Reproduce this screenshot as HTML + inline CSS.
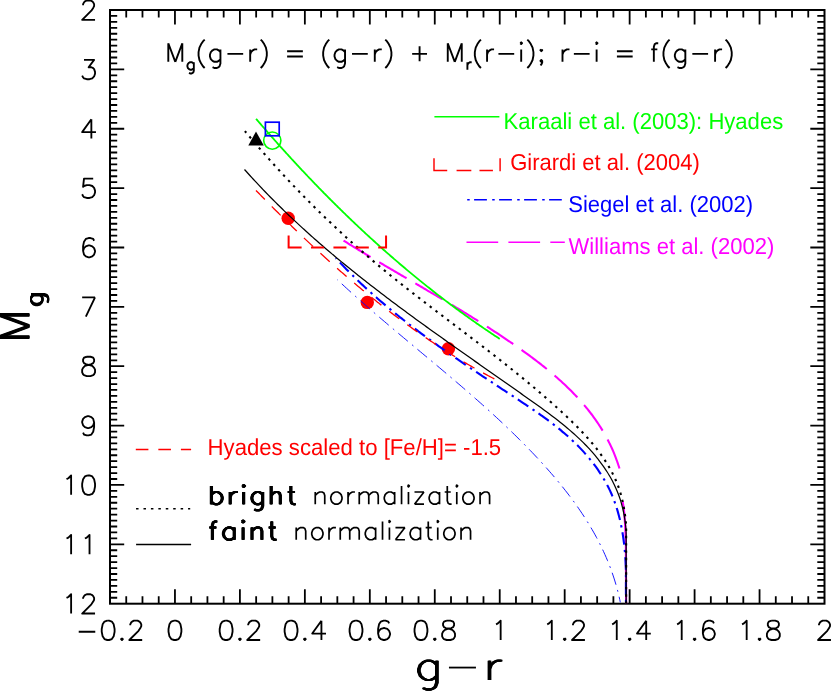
<!DOCTYPE html>
<html><head><meta charset="utf-8"><title>Mg vs g-r</title>
<style>html,body{margin:0;padding:0;background:#fff;}svg{display:block;font-family:"Liberation Sans",sans-serif;}</style>
</head><body>
<svg width="831" height="691" viewBox="0 0 831 691">
<rect width="831" height="691" fill="#fff"/>
<rect x="110.00" y="10.00" width="714.50" height="593.70" fill="none" stroke="#000" stroke-width="2.00"/>
<path d="M126.24,10.00v7.50M126.24,603.70v-7.50M142.48,10.00v7.50M142.48,603.70v-7.50M158.72,10.00v7.50M158.72,603.70v-7.50M174.95,10.00v14.50M174.95,603.70v-14.50M191.19,10.00v7.50M191.19,603.70v-7.50M207.43,10.00v7.50M207.43,603.70v-7.50M223.67,10.00v7.50M223.67,603.70v-7.50M239.91,10.00v14.50M239.91,603.70v-14.50M256.15,10.00v7.50M256.15,603.70v-7.50M272.39,10.00v7.50M272.39,603.70v-7.50M288.62,10.00v7.50M288.62,603.70v-7.50M304.86,10.00v14.50M304.86,603.70v-14.50M321.10,10.00v7.50M321.10,603.70v-7.50M337.34,10.00v7.50M337.34,603.70v-7.50M353.58,10.00v7.50M353.58,603.70v-7.50M369.82,10.00v14.50M369.82,603.70v-14.50M386.06,10.00v7.50M386.06,603.70v-7.50M402.30,10.00v7.50M402.30,603.70v-7.50M418.53,10.00v7.50M418.53,603.70v-7.50M434.77,10.00v14.50M434.77,603.70v-14.50M451.01,10.00v7.50M451.01,603.70v-7.50M467.25,10.00v7.50M467.25,603.70v-7.50M483.49,10.00v7.50M483.49,603.70v-7.50M499.73,10.00v14.50M499.73,603.70v-14.50M515.97,10.00v7.50M515.97,603.70v-7.50M532.20,10.00v7.50M532.20,603.70v-7.50M548.44,10.00v7.50M548.44,603.70v-7.50M564.68,10.00v14.50M564.68,603.70v-14.50M580.92,10.00v7.50M580.92,603.70v-7.50M597.16,10.00v7.50M597.16,603.70v-7.50M613.40,10.00v7.50M613.40,603.70v-7.50M629.64,10.00v14.50M629.64,603.70v-14.50M645.88,10.00v7.50M645.88,603.70v-7.50M662.11,10.00v7.50M662.11,603.70v-7.50M678.35,10.00v7.50M678.35,603.70v-7.50M694.59,10.00v14.50M694.59,603.70v-14.50M710.83,10.00v7.50M710.83,603.70v-7.50M727.07,10.00v7.50M727.07,603.70v-7.50M743.31,10.00v7.50M743.31,603.70v-7.50M759.55,10.00v14.50M759.55,603.70v-14.50M775.78,10.00v7.50M775.78,603.70v-7.50M792.02,10.00v7.50M792.02,603.70v-7.50M808.26,10.00v7.50M808.26,603.70v-7.50M110.00,15.94h7.20M824.50,15.94h-7.20M110.00,21.87h7.20M824.50,21.87h-7.20M110.00,27.81h7.20M824.50,27.81h-7.20M110.00,33.75h7.20M824.50,33.75h-7.20M110.00,39.69h7.20M824.50,39.69h-7.20M110.00,45.62h7.20M824.50,45.62h-7.20M110.00,51.56h7.20M824.50,51.56h-7.20M110.00,57.50h7.20M824.50,57.50h-7.20M110.00,63.43h7.20M824.50,63.43h-7.20M110.00,69.37h14.20M824.50,69.37h-14.20M110.00,75.31h7.20M824.50,75.31h-7.20M110.00,81.24h7.20M824.50,81.24h-7.20M110.00,87.18h7.20M824.50,87.18h-7.20M110.00,93.12h7.20M824.50,93.12h-7.20M110.00,99.06h7.20M824.50,99.06h-7.20M110.00,104.99h7.20M824.50,104.99h-7.20M110.00,110.93h7.20M824.50,110.93h-7.20M110.00,116.87h7.20M824.50,116.87h-7.20M110.00,122.80h7.20M824.50,122.80h-7.20M110.00,128.74h14.20M824.50,128.74h-14.20M110.00,134.68h7.20M824.50,134.68h-7.20M110.00,140.61h7.20M824.50,140.61h-7.20M110.00,146.55h7.20M824.50,146.55h-7.20M110.00,152.49h7.20M824.50,152.49h-7.20M110.00,158.43h7.20M824.50,158.43h-7.20M110.00,164.36h7.20M824.50,164.36h-7.20M110.00,170.30h7.20M824.50,170.30h-7.20M110.00,176.24h7.20M824.50,176.24h-7.20M110.00,182.17h7.20M824.50,182.17h-7.20M110.00,188.11h14.20M824.50,188.11h-14.20M110.00,194.05h7.20M824.50,194.05h-7.20M110.00,199.98h7.20M824.50,199.98h-7.20M110.00,205.92h7.20M824.50,205.92h-7.20M110.00,211.86h7.20M824.50,211.86h-7.20M110.00,217.80h7.20M824.50,217.80h-7.20M110.00,223.73h7.20M824.50,223.73h-7.20M110.00,229.67h7.20M824.50,229.67h-7.20M110.00,235.61h7.20M824.50,235.61h-7.20M110.00,241.54h7.20M824.50,241.54h-7.20M110.00,247.48h14.20M824.50,247.48h-14.20M110.00,253.42h7.20M824.50,253.42h-7.20M110.00,259.35h7.20M824.50,259.35h-7.20M110.00,265.29h7.20M824.50,265.29h-7.20M110.00,271.23h7.20M824.50,271.23h-7.20M110.00,277.17h7.20M824.50,277.17h-7.20M110.00,283.10h7.20M824.50,283.10h-7.20M110.00,289.04h7.20M824.50,289.04h-7.20M110.00,294.98h7.20M824.50,294.98h-7.20M110.00,300.91h7.20M824.50,300.91h-7.20M110.00,306.85h14.20M824.50,306.85h-14.20M110.00,312.79h7.20M824.50,312.79h-7.20M110.00,318.72h7.20M824.50,318.72h-7.20M110.00,324.66h7.20M824.50,324.66h-7.20M110.00,330.60h7.20M824.50,330.60h-7.20M110.00,336.54h7.20M824.50,336.54h-7.20M110.00,342.47h7.20M824.50,342.47h-7.20M110.00,348.41h7.20M824.50,348.41h-7.20M110.00,354.35h7.20M824.50,354.35h-7.20M110.00,360.28h7.20M824.50,360.28h-7.20M110.00,366.22h14.20M824.50,366.22h-14.20M110.00,372.16h7.20M824.50,372.16h-7.20M110.00,378.09h7.20M824.50,378.09h-7.20M110.00,384.03h7.20M824.50,384.03h-7.20M110.00,389.97h7.20M824.50,389.97h-7.20M110.00,395.91h7.20M824.50,395.91h-7.20M110.00,401.84h7.20M824.50,401.84h-7.20M110.00,407.78h7.20M824.50,407.78h-7.20M110.00,413.72h7.20M824.50,413.72h-7.20M110.00,419.65h7.20M824.50,419.65h-7.20M110.00,425.59h14.20M824.50,425.59h-14.20M110.00,431.53h7.20M824.50,431.53h-7.20M110.00,437.46h7.20M824.50,437.46h-7.20M110.00,443.40h7.20M824.50,443.40h-7.20M110.00,449.34h7.20M824.50,449.34h-7.20M110.00,455.27h7.20M824.50,455.27h-7.20M110.00,461.21h7.20M824.50,461.21h-7.20M110.00,467.15h7.20M824.50,467.15h-7.20M110.00,473.09h7.20M824.50,473.09h-7.20M110.00,479.02h7.20M824.50,479.02h-7.20M110.00,484.96h14.20M824.50,484.96h-14.20M110.00,490.90h7.20M824.50,490.90h-7.20M110.00,496.83h7.20M824.50,496.83h-7.20M110.00,502.77h7.20M824.50,502.77h-7.20M110.00,508.71h7.20M824.50,508.71h-7.20M110.00,514.65h7.20M824.50,514.65h-7.20M110.00,520.58h7.20M824.50,520.58h-7.20M110.00,526.52h7.20M824.50,526.52h-7.20M110.00,532.46h7.20M824.50,532.46h-7.20M110.00,538.39h7.20M824.50,538.39h-7.20M110.00,544.33h14.20M824.50,544.33h-14.20M110.00,550.27h7.20M824.50,550.27h-7.20M110.00,556.20h7.20M824.50,556.20h-7.20M110.00,562.14h7.20M824.50,562.14h-7.20M110.00,568.08h7.20M824.50,568.08h-7.20M110.00,574.02h7.20M824.50,574.02h-7.20M110.00,579.95h7.20M824.50,579.95h-7.20M110.00,585.89h7.20M824.50,585.89h-7.20M110.00,591.83h7.20M824.50,591.83h-7.20M110.00,597.76h7.20M824.50,597.76h-7.20" stroke="#000" stroke-width="1.80" fill="none"/>
<path transform="translate(79.40,19.85)" d="M3.68,-14.72L3.68,-15.64L4.60,-17.48L5.52,-18.40L7.36,-19.32L11.04,-19.32L12.88,-18.40L13.80,-17.48L14.72,-15.64L14.72,-13.80L13.80,-11.96L11.96,-9.20L2.76,-0.00L15.64,-0.00" fill="none" stroke="#000" stroke-width="1.85" stroke-linecap="butt" stroke-linejoin="round"/>
<path transform="translate(79.40,79.22)" d="M4.60,-19.32L14.72,-19.32L9.20,-11.96L11.96,-11.96L13.80,-11.04L14.72,-10.12L15.64,-7.36L15.64,-5.52L14.72,-2.76L12.88,-0.92L10.12,-0.00L7.36,-0.00L4.60,-0.92L3.68,-1.84L2.76,-3.68" fill="none" stroke="#000" stroke-width="1.85" stroke-linecap="butt" stroke-linejoin="round"/>
<path transform="translate(79.40,138.59)" d="M11.96,-19.32L2.76,-6.44L16.56,-6.44M11.96,-19.32L11.96,-0.00" fill="none" stroke="#000" stroke-width="1.85" stroke-linecap="butt" stroke-linejoin="round"/>
<path transform="translate(79.40,197.96)" d="M13.80,-19.32L4.60,-19.32L3.68,-11.04L4.60,-11.96L7.36,-12.88L10.12,-12.88L12.88,-11.96L14.72,-10.12L15.64,-7.36L15.64,-5.52L14.72,-2.76L12.88,-0.92L10.12,-0.00L7.36,-0.00L4.60,-0.92L3.68,-1.84L2.76,-3.68" fill="none" stroke="#000" stroke-width="1.85" stroke-linecap="butt" stroke-linejoin="round"/>
<path transform="translate(79.40,257.33)" d="M14.72,-16.56L13.80,-18.40L11.04,-19.32L9.20,-19.32L6.44,-18.40L4.60,-15.64L3.68,-11.04L3.68,-6.44L4.60,-2.76L6.44,-0.92L9.20,-0.00L10.12,-0.00L12.88,-0.92L14.72,-2.76L15.64,-5.52L15.64,-6.44L14.72,-9.20L12.88,-11.04L10.12,-11.96L9.20,-11.96L6.44,-11.04L4.60,-9.20L3.68,-6.44" fill="none" stroke="#000" stroke-width="1.85" stroke-linecap="butt" stroke-linejoin="round"/>
<path transform="translate(79.40,316.70)" d="M15.64,-19.32L6.44,-0.00M2.76,-19.32L15.64,-19.32" fill="none" stroke="#000" stroke-width="1.85" stroke-linecap="butt" stroke-linejoin="round"/>
<path transform="translate(79.40,376.07)" d="M7.36,-19.32L4.60,-18.40L3.68,-16.56L3.68,-14.72L4.60,-12.88L6.44,-11.96L10.12,-11.04L12.88,-10.12L14.72,-8.28L15.64,-6.44L15.64,-3.68L14.72,-1.84L13.80,-0.92L11.04,-0.00L7.36,-0.00L4.60,-0.92L3.68,-1.84L2.76,-3.68L2.76,-6.44L3.68,-8.28L5.52,-10.12L8.28,-11.04L11.96,-11.96L13.80,-12.88L14.72,-14.72L14.72,-16.56L13.80,-18.40L11.04,-19.32L7.36,-19.32" fill="none" stroke="#000" stroke-width="1.85" stroke-linecap="butt" stroke-linejoin="round"/>
<path transform="translate(79.40,435.44)" d="M14.72,-12.88L13.80,-10.12L11.96,-8.28L9.20,-7.36L8.28,-7.36L5.52,-8.28L3.68,-10.12L2.76,-12.88L2.76,-13.80L3.68,-16.56L5.52,-18.40L8.28,-19.32L9.20,-19.32L11.96,-18.40L13.80,-16.56L14.72,-12.88L14.72,-8.28L13.80,-3.68L11.96,-0.92L9.20,-0.00L7.36,-0.00L4.60,-0.92L3.68,-2.76" fill="none" stroke="#000" stroke-width="1.85" stroke-linecap="butt" stroke-linejoin="round"/>
<path transform="translate(61.00,494.81)" d="M5.52,-15.64L7.36,-16.56L10.12,-19.32L10.12,-0.00M26.68,-19.32L23.92,-18.40L22.08,-15.64L21.16,-11.04L21.16,-8.28L22.08,-3.68L23.92,-0.92L26.68,-0.00L28.52,-0.00L31.28,-0.92L33.12,-3.68L34.04,-8.28L34.04,-11.04L33.12,-15.64L31.28,-18.40L28.52,-19.32L26.68,-19.32" fill="none" stroke="#000" stroke-width="1.85" stroke-linecap="butt" stroke-linejoin="round"/>
<path transform="translate(61.00,554.18)" d="M5.52,-15.64L7.36,-16.56L10.12,-19.32L10.12,-0.00M23.92,-15.64L25.76,-16.56L28.52,-19.32L28.52,-0.00" fill="none" stroke="#000" stroke-width="1.85" stroke-linecap="butt" stroke-linejoin="round"/>
<path transform="translate(61.00,613.55)" d="M5.52,-15.64L7.36,-16.56L10.12,-19.32L10.12,-0.00M22.08,-14.72L22.08,-15.64L23.00,-17.48L23.92,-18.40L25.76,-19.32L29.44,-19.32L31.28,-18.40L32.20,-17.48L33.12,-15.64L33.12,-13.80L32.20,-11.96L30.36,-9.20L21.16,-0.00L34.04,-0.00" fill="none" stroke="#000" stroke-width="1.85" stroke-linecap="butt" stroke-linejoin="round"/>
<path transform="translate(75.04,640.00)" d="M3.68,-8.28L20.24,-8.28M32.20,-19.32L29.44,-18.40L27.60,-15.64L26.68,-11.04L26.68,-8.28L27.60,-3.68L29.44,-0.92L32.20,-0.00L34.04,-0.00L36.80,-0.92L38.64,-3.68L39.56,-8.28L39.56,-11.04L38.64,-15.64L36.80,-18.40L34.04,-19.32L32.20,-19.32M46.92,-1.84L46.00,-0.92L46.92,-0.00L47.84,-0.92L46.92,-1.84M55.20,-14.72L55.20,-15.64L56.12,-17.48L57.04,-18.40L58.88,-19.32L62.56,-19.32L64.40,-18.40L65.32,-17.48L66.24,-15.64L66.24,-13.80L65.32,-11.96L63.48,-9.20L54.28,-0.00L67.16,-0.00" fill="none" stroke="#000" stroke-width="1.85" stroke-linecap="butt" stroke-linejoin="round"/>
<path transform="translate(165.75,640.00)" d="M8.28,-19.32L5.52,-18.40L3.68,-15.64L2.76,-11.04L2.76,-8.28L3.68,-3.68L5.52,-0.92L8.28,-0.00L10.12,-0.00L12.88,-0.92L14.72,-3.68L15.64,-8.28L15.64,-11.04L14.72,-15.64L12.88,-18.40L10.12,-19.32L8.28,-19.32" fill="none" stroke="#000" stroke-width="1.85" stroke-linecap="butt" stroke-linejoin="round"/>
<path transform="translate(216.91,640.00)" d="M8.28,-19.32L5.52,-18.40L3.68,-15.64L2.76,-11.04L2.76,-8.28L3.68,-3.68L5.52,-0.92L8.28,-0.00L10.12,-0.00L12.88,-0.92L14.72,-3.68L15.64,-8.28L15.64,-11.04L14.72,-15.64L12.88,-18.40L10.12,-19.32L8.28,-19.32M23.00,-1.84L22.08,-0.92L23.00,-0.00L23.92,-0.92L23.00,-1.84M31.28,-14.72L31.28,-15.64L32.20,-17.48L33.12,-18.40L34.96,-19.32L38.64,-19.32L40.48,-18.40L41.40,-17.48L42.32,-15.64L42.32,-13.80L41.40,-11.96L39.56,-9.20L30.36,-0.00L43.24,-0.00" fill="none" stroke="#000" stroke-width="1.85" stroke-linecap="butt" stroke-linejoin="round"/>
<path transform="translate(281.86,640.00)" d="M8.28,-19.32L5.52,-18.40L3.68,-15.64L2.76,-11.04L2.76,-8.28L3.68,-3.68L5.52,-0.92L8.28,-0.00L10.12,-0.00L12.88,-0.92L14.72,-3.68L15.64,-8.28L15.64,-11.04L14.72,-15.64L12.88,-18.40L10.12,-19.32L8.28,-19.32M23.00,-1.84L22.08,-0.92L23.00,-0.00L23.92,-0.92L23.00,-1.84M39.56,-19.32L30.36,-6.44L44.16,-6.44M39.56,-19.32L39.56,-0.00" fill="none" stroke="#000" stroke-width="1.85" stroke-linecap="butt" stroke-linejoin="round"/>
<path transform="translate(346.82,640.00)" d="M8.28,-19.32L5.52,-18.40L3.68,-15.64L2.76,-11.04L2.76,-8.28L3.68,-3.68L5.52,-0.92L8.28,-0.00L10.12,-0.00L12.88,-0.92L14.72,-3.68L15.64,-8.28L15.64,-11.04L14.72,-15.64L12.88,-18.40L10.12,-19.32L8.28,-19.32M23.00,-1.84L22.08,-0.92L23.00,-0.00L23.92,-0.92L23.00,-1.84M42.32,-16.56L41.40,-18.40L38.64,-19.32L36.80,-19.32L34.04,-18.40L32.20,-15.64L31.28,-11.04L31.28,-6.44L32.20,-2.76L34.04,-0.92L36.80,-0.00L37.72,-0.00L40.48,-0.92L42.32,-2.76L43.24,-5.52L43.24,-6.44L42.32,-9.20L40.48,-11.04L37.72,-11.96L36.80,-11.96L34.04,-11.04L32.20,-9.20L31.28,-6.44" fill="none" stroke="#000" stroke-width="1.85" stroke-linecap="butt" stroke-linejoin="round"/>
<path transform="translate(411.77,640.00)" d="M8.28,-19.32L5.52,-18.40L3.68,-15.64L2.76,-11.04L2.76,-8.28L3.68,-3.68L5.52,-0.92L8.28,-0.00L10.12,-0.00L12.88,-0.92L14.72,-3.68L15.64,-8.28L15.64,-11.04L14.72,-15.64L12.88,-18.40L10.12,-19.32L8.28,-19.32M23.00,-1.84L22.08,-0.92L23.00,-0.00L23.92,-0.92L23.00,-1.84M34.96,-19.32L32.20,-18.40L31.28,-16.56L31.28,-14.72L32.20,-12.88L34.04,-11.96L37.72,-11.04L40.48,-10.12L42.32,-8.28L43.24,-6.44L43.24,-3.68L42.32,-1.84L41.40,-0.92L38.64,-0.00L34.96,-0.00L32.20,-0.92L31.28,-1.84L30.36,-3.68L30.36,-6.44L31.28,-8.28L33.12,-10.12L35.88,-11.04L39.56,-11.96L41.40,-12.88L42.32,-14.72L42.32,-16.56L41.40,-18.40L38.64,-19.32L34.96,-19.32" fill="none" stroke="#000" stroke-width="1.85" stroke-linecap="butt" stroke-linejoin="round"/>
<path transform="translate(490.53,640.00)" d="M5.52,-15.64L7.36,-16.56L10.12,-19.32L10.12,-0.00" fill="none" stroke="#000" stroke-width="1.85" stroke-linecap="butt" stroke-linejoin="round"/>
<path transform="translate(541.68,640.00)" d="M5.52,-15.64L7.36,-16.56L10.12,-19.32L10.12,-0.00M23.00,-1.84L22.08,-0.92L23.00,-0.00L23.92,-0.92L23.00,-1.84M31.28,-14.72L31.28,-15.64L32.20,-17.48L33.12,-18.40L34.96,-19.32L38.64,-19.32L40.48,-18.40L41.40,-17.48L42.32,-15.64L42.32,-13.80L41.40,-11.96L39.56,-9.20L30.36,-0.00L43.24,-0.00" fill="none" stroke="#000" stroke-width="1.85" stroke-linecap="butt" stroke-linejoin="round"/>
<path transform="translate(606.64,640.00)" d="M5.52,-15.64L7.36,-16.56L10.12,-19.32L10.12,-0.00M23.00,-1.84L22.08,-0.92L23.00,-0.00L23.92,-0.92L23.00,-1.84M39.56,-19.32L30.36,-6.44L44.16,-6.44M39.56,-19.32L39.56,-0.00" fill="none" stroke="#000" stroke-width="1.85" stroke-linecap="butt" stroke-linejoin="round"/>
<path transform="translate(671.59,640.00)" d="M5.52,-15.64L7.36,-16.56L10.12,-19.32L10.12,-0.00M23.00,-1.84L22.08,-0.92L23.00,-0.00L23.92,-0.92L23.00,-1.84M42.32,-16.56L41.40,-18.40L38.64,-19.32L36.80,-19.32L34.04,-18.40L32.20,-15.64L31.28,-11.04L31.28,-6.44L32.20,-2.76L34.04,-0.92L36.80,-0.00L37.72,-0.00L40.48,-0.92L42.32,-2.76L43.24,-5.52L43.24,-6.44L42.32,-9.20L40.48,-11.04L37.72,-11.96L36.80,-11.96L34.04,-11.04L32.20,-9.20L31.28,-6.44" fill="none" stroke="#000" stroke-width="1.85" stroke-linecap="butt" stroke-linejoin="round"/>
<path transform="translate(736.55,640.00)" d="M5.52,-15.64L7.36,-16.56L10.12,-19.32L10.12,-0.00M23.00,-1.84L22.08,-0.92L23.00,-0.00L23.92,-0.92L23.00,-1.84M34.96,-19.32L32.20,-18.40L31.28,-16.56L31.28,-14.72L32.20,-12.88L34.04,-11.96L37.72,-11.04L40.48,-10.12L42.32,-8.28L43.24,-6.44L43.24,-3.68L42.32,-1.84L41.40,-0.92L38.64,-0.00L34.96,-0.00L32.20,-0.92L31.28,-1.84L30.36,-3.68L30.36,-6.44L31.28,-8.28L33.12,-10.12L35.88,-11.04L39.56,-11.96L41.40,-12.88L42.32,-14.72L42.32,-16.56L41.40,-18.40L38.64,-19.32L34.96,-19.32" fill="none" stroke="#000" stroke-width="1.85" stroke-linecap="butt" stroke-linejoin="round"/>
<path transform="translate(815.30,640.00)" d="M3.68,-14.72L3.68,-15.64L4.60,-17.48L5.52,-18.40L7.36,-19.32L11.04,-19.32L12.88,-18.40L13.80,-17.48L14.72,-15.64L14.72,-13.80L13.80,-11.96L11.96,-9.20L2.76,-0.00L15.64,-0.00" fill="none" stroke="#000" stroke-width="1.85" stroke-linecap="butt" stroke-linejoin="round"/>
<path transform="translate(164.80,61.80)" d="M3.50,-18.59L3.50,-0.00M3.50,-18.59L10.50,-0.00M17.50,-18.59L10.50,-0.00M17.50,-18.59L17.50,-0.00" fill="none" stroke="#000" stroke-width="1.90" stroke-linecap="butt" stroke-linejoin="round"/>
<path transform="translate(185.80,69.70)" d="M8.03,-7.49L8.03,1.07L7.49,2.68L6.96,3.21L5.89,3.75L4.28,3.75L3.21,3.21M8.03,-5.89L6.96,-6.96L5.89,-7.49L4.28,-7.49L3.21,-6.96L2.14,-5.89L1.60,-4.28L1.60,-3.21L2.14,-1.60L3.21,-0.54L4.28,-0.00L5.89,-0.00L6.96,-0.54L8.03,-1.60" fill="none" stroke="#000" stroke-width="1.90" stroke-linecap="butt" stroke-linejoin="round"/>
<path transform="translate(195.06,61.80)" d="M9.62,-22.12L7.88,-20.36L6.12,-17.70L4.38,-14.16L3.50,-9.73L3.50,-6.20L4.38,-1.77L6.12,1.77L7.88,4.42L9.62,6.20M25.38,-12.39L25.38,1.77L24.50,4.42L23.62,5.31L21.88,6.20L19.25,6.20L17.50,5.31M25.38,-9.73L23.62,-11.51L21.88,-12.39L19.25,-12.39L17.50,-11.51L15.75,-9.73L14.88,-7.08L14.88,-5.31L15.75,-2.66L17.50,-0.89L19.25,-0.00L21.88,-0.00L23.62,-0.89L25.38,-2.66M32.38,-7.96L48.12,-7.96M55.12,-12.39L55.12,-0.00M55.12,-7.08L56.00,-9.73L57.75,-11.51L59.50,-12.39L62.12,-12.39M65.62,-22.12L67.38,-20.36L69.12,-17.70L70.88,-14.16L71.75,-9.73L71.75,-6.20L70.88,-1.77L69.12,1.77L67.38,4.42L65.62,6.20M92.05,-10.62L107.80,-10.62M92.05,-5.31L107.80,-5.31M134.22,-22.12L132.47,-20.36L130.72,-17.70L128.97,-14.16L128.10,-9.73L128.10,-6.20L128.97,-1.77L130.72,1.77L132.47,4.42L134.22,6.20M149.97,-12.39L149.97,1.77L149.10,4.42L148.22,5.31L146.47,6.20L143.85,6.20L142.10,5.31M149.97,-9.73L148.22,-11.51L146.47,-12.39L143.85,-12.39L142.10,-11.51L140.35,-9.73L139.47,-7.08L139.47,-5.31L140.35,-2.66L142.10,-0.89L143.85,-0.00L146.47,-0.00L148.22,-0.89L149.97,-2.66M156.97,-7.96L172.72,-7.96M179.72,-12.39L179.72,-0.00M179.72,-7.08L180.60,-9.73L182.35,-11.51L184.10,-12.39L186.72,-12.39M190.22,-22.12L191.97,-20.36L193.72,-17.70L195.47,-14.16L196.35,-9.73L196.35,-6.20L195.47,-1.77L193.72,1.77L191.97,4.42L190.22,6.20M224.53,-15.49L224.53,-0.44M217.09,-7.96L231.96,-7.96M252.70,-18.59L252.70,-0.00M252.70,-18.59L259.70,-0.00M266.70,-18.59L259.70,-0.00M266.70,-18.59L266.70,-0.00" fill="none" stroke="#000" stroke-width="1.90" stroke-linecap="butt" stroke-linejoin="round"/>
<path transform="translate(465.26,69.70)" d="M2.14,-7.49L2.14,-0.00M2.14,-4.28L2.68,-5.89L3.75,-6.96L4.82,-7.49L6.42,-7.49" fill="none" stroke="#000" stroke-width="1.90" stroke-linecap="butt" stroke-linejoin="round"/>
<path transform="translate(471.32,61.80)" d="M9.62,-22.12L7.88,-20.36L6.12,-17.70L4.38,-14.16L3.50,-9.73L3.50,-6.20L4.38,-1.77L6.12,1.77L7.88,4.42L9.62,6.20M15.75,-12.39L15.75,-0.00M15.75,-7.08L16.62,-9.73L18.38,-11.51L20.12,-12.39L22.75,-12.39M27.12,-7.96L42.88,-7.96M49.00,-18.59L49.88,-17.70L50.75,-18.59L49.88,-19.47L49.00,-18.59M49.88,-12.39L49.88,-0.00M56.00,-22.12L57.75,-20.36L59.50,-17.70L61.25,-14.16L62.12,-9.73L62.12,-6.20L61.25,-1.77L59.50,1.77L57.75,4.42L56.00,6.20M70.00,-12.39L69.12,-11.51L70.00,-10.62L70.88,-11.51L70.00,-12.39M70.88,-0.89L70.00,-0.00L69.12,-0.89L70.00,-1.77L70.88,-0.89L70.88,0.89L70.00,2.66L69.12,3.54M91.17,-12.39L91.17,-0.00M91.17,-7.08L92.05,-9.73L93.80,-11.51L95.55,-12.39L98.17,-12.39M102.55,-7.96L118.30,-7.96M124.42,-18.59L125.30,-17.70L126.17,-18.59L125.30,-19.47L124.42,-18.59M125.30,-12.39L125.30,-0.00M145.60,-10.62L161.35,-10.62M145.60,-5.31L161.35,-5.31M186.90,-18.59L185.15,-18.59L183.40,-17.70L182.52,-15.04L182.52,-0.00M179.90,-12.39L186.02,-12.39M198.27,-22.12L196.52,-20.36L194.77,-17.70L193.02,-14.16L192.15,-9.73L192.15,-6.20L193.02,-1.77L194.77,1.77L196.52,4.42L198.27,6.20M214.02,-12.39L214.02,1.77L213.15,4.42L212.27,5.31L210.52,6.20L207.90,6.20L206.15,5.31M214.02,-9.73L212.27,-11.51L210.52,-12.39L207.90,-12.39L206.15,-11.51L204.40,-9.73L203.52,-7.08L203.52,-5.31L204.40,-2.66L206.15,-0.89L207.90,-0.00L210.52,-0.00L212.27,-0.89L214.02,-2.66M221.02,-7.96L236.77,-7.96M243.77,-12.39L243.77,-0.00M243.77,-7.08L244.65,-9.73L246.40,-11.51L248.15,-12.39L250.77,-12.39M254.27,-22.12L256.02,-20.36L257.77,-17.70L259.52,-14.16L260.40,-9.73L260.40,-6.20L259.52,-1.77L257.77,1.77L256.02,4.42L254.27,6.20" fill="none" stroke="#000" stroke-width="1.90" stroke-linecap="butt" stroke-linejoin="round"/>
<g transform="translate(29.40,342.66) rotate(-90)" fill="none" stroke="#000" stroke-width="1.80" stroke-linecap="butt" stroke-linejoin="round">
<path transform="translate(-1.00,0)" d="M5.56,-30.24L5.56,-0.00M5.56,-30.24L16.68,-0.00M27.80,-30.24L16.68,-0.00M27.80,-30.24L27.80,-0.00"/>
<path transform="translate(-0.50,0)" d="M5.56,-30.24L5.56,-0.00M5.56,-30.24L16.68,-0.00M27.80,-30.24L16.68,-0.00M27.80,-30.24L27.80,-0.00"/>
<path transform="translate(0.00,0)" d="M5.56,-30.24L5.56,-0.00M5.56,-30.24L16.68,-0.00M27.80,-30.24L16.68,-0.00M27.80,-30.24L27.80,-0.00"/>
<path transform="translate(0.50,0)" d="M5.56,-30.24L5.56,-0.00M5.56,-30.24L16.68,-0.00M27.80,-30.24L16.68,-0.00M27.80,-30.24L27.80,-0.00"/>
<path transform="translate(1.00,0)" d="M5.56,-30.24L5.56,-0.00M5.56,-30.24L16.68,-0.00M27.80,-30.24L16.68,-0.00M27.80,-30.24L27.80,-0.00"/>
</g>
<g transform="translate(42.50,307.00) rotate(-90)" fill="none" stroke="#000" stroke-width="1.80" stroke-linecap="butt" stroke-linejoin="round">
<path transform="translate(-0.85,0)" d="M12.30,-11.48L12.30,1.64L11.48,4.10L10.66,4.92L9.02,5.74L6.56,5.74L4.92,4.92M12.30,-9.02L10.66,-10.66L9.02,-11.48L6.56,-11.48L4.92,-10.66L3.28,-9.02L2.46,-6.56L2.46,-4.92L3.28,-2.46L4.92,-0.82L6.56,-0.00L9.02,-0.00L10.66,-0.82L12.30,-2.46"/>
<path transform="translate(-0.42,0)" d="M12.30,-11.48L12.30,1.64L11.48,4.10L10.66,4.92L9.02,5.74L6.56,5.74L4.92,4.92M12.30,-9.02L10.66,-10.66L9.02,-11.48L6.56,-11.48L4.92,-10.66L3.28,-9.02L2.46,-6.56L2.46,-4.92L3.28,-2.46L4.92,-0.82L6.56,-0.00L9.02,-0.00L10.66,-0.82L12.30,-2.46"/>
<path transform="translate(0.00,0)" d="M12.30,-11.48L12.30,1.64L11.48,4.10L10.66,4.92L9.02,5.74L6.56,5.74L4.92,4.92M12.30,-9.02L10.66,-10.66L9.02,-11.48L6.56,-11.48L4.92,-10.66L3.28,-9.02L2.46,-6.56L2.46,-4.92L3.28,-2.46L4.92,-0.82L6.56,-0.00L9.02,-0.00L10.66,-0.82L12.30,-2.46"/>
<path transform="translate(0.42,0)" d="M12.30,-11.48L12.30,1.64L11.48,4.10L10.66,4.92L9.02,5.74L6.56,5.74L4.92,4.92M12.30,-9.02L10.66,-10.66L9.02,-11.48L6.56,-11.48L4.92,-10.66L3.28,-9.02L2.46,-6.56L2.46,-4.92L3.28,-2.46L4.92,-0.82L6.56,-0.00L9.02,-0.00L10.66,-0.82L12.30,-2.46"/>
<path transform="translate(0.85,0)" d="M12.30,-11.48L12.30,1.64L11.48,4.10L10.66,4.92L9.02,5.74L6.56,5.74L4.92,4.92M12.30,-9.02L10.66,-10.66L9.02,-11.48L6.56,-11.48L4.92,-10.66L3.28,-9.02L2.46,-6.56L2.46,-4.92L3.28,-2.46L4.92,-0.82L6.56,-0.00L9.02,-0.00L10.66,-0.82L12.30,-2.46"/>
</g>
<g transform="translate(414.40,679.90)" fill="none" stroke="#000" stroke-width="1.80" stroke-linecap="butt" stroke-linejoin="round">
<path transform="translate(-1.00,0)" d="M22.50,-19.18L22.50,2.74L21.00,6.85L19.50,8.22L16.50,9.59L12.00,9.59L9.00,8.22M22.50,-15.07L19.50,-17.81L16.50,-19.18L12.00,-19.18L9.00,-17.81L6.00,-15.07L4.50,-10.96L4.50,-8.22L6.00,-4.11L9.00,-1.37L12.00,-0.00L16.50,-0.00L19.50,-1.37L22.50,-4.11"/>
<path transform="translate(-0.50,0)" d="M22.50,-19.18L22.50,2.74L21.00,6.85L19.50,8.22L16.50,9.59L12.00,9.59L9.00,8.22M22.50,-15.07L19.50,-17.81L16.50,-19.18L12.00,-19.18L9.00,-17.81L6.00,-15.07L4.50,-10.96L4.50,-8.22L6.00,-4.11L9.00,-1.37L12.00,-0.00L16.50,-0.00L19.50,-1.37L22.50,-4.11"/>
<path transform="translate(0.00,0)" d="M22.50,-19.18L22.50,2.74L21.00,6.85L19.50,8.22L16.50,9.59L12.00,9.59L9.00,8.22M22.50,-15.07L19.50,-17.81L16.50,-19.18L12.00,-19.18L9.00,-17.81L6.00,-15.07L4.50,-10.96L4.50,-8.22L6.00,-4.11L9.00,-1.37L12.00,-0.00L16.50,-0.00L19.50,-1.37L22.50,-4.11"/>
<path transform="translate(0.50,0)" d="M22.50,-19.18L22.50,2.74L21.00,6.85L19.50,8.22L16.50,9.59L12.00,9.59L9.00,8.22M22.50,-15.07L19.50,-17.81L16.50,-19.18L12.00,-19.18L9.00,-17.81L6.00,-15.07L4.50,-10.96L4.50,-8.22L6.00,-4.11L9.00,-1.37L12.00,-0.00L16.50,-0.00L19.50,-1.37L22.50,-4.11"/>
<path transform="translate(1.00,0)" d="M22.50,-19.18L22.50,2.74L21.00,6.85L19.50,8.22L16.50,9.59L12.00,9.59L9.00,8.22M22.50,-15.07L19.50,-17.81L16.50,-19.18L12.00,-19.18L9.00,-17.81L6.00,-15.07L4.50,-10.96L4.50,-8.22L6.00,-4.11L9.00,-1.37L12.00,-0.00L16.50,-0.00L19.50,-1.37L22.50,-4.11"/>
</g>
<path transform="translate(442.95,679.90)" d="M6.00,-12.33L33.00,-12.33" fill="none" stroke="#000" stroke-width="1.80" stroke-linecap="butt" stroke-linejoin="round"/>
<g transform="translate(483.50,679.90)" fill="none" stroke="#000" stroke-width="1.80" stroke-linecap="butt" stroke-linejoin="round">
<path transform="translate(-1.00,0)" d="M6.00,-19.18L6.00,-0.00M6.00,-10.96L7.50,-15.07L10.50,-17.81L13.50,-19.18L18.00,-19.18"/>
<path transform="translate(-0.50,0)" d="M6.00,-19.18L6.00,-0.00M6.00,-10.96L7.50,-15.07L10.50,-17.81L13.50,-19.18L18.00,-19.18"/>
<path transform="translate(0.00,0)" d="M6.00,-19.18L6.00,-0.00M6.00,-10.96L7.50,-15.07L10.50,-17.81L13.50,-19.18L18.00,-19.18"/>
<path transform="translate(0.50,0)" d="M6.00,-19.18L6.00,-0.00M6.00,-10.96L7.50,-15.07L10.50,-17.81L13.50,-19.18L18.00,-19.18"/>
<path transform="translate(1.00,0)" d="M6.00,-19.18L6.00,-0.00M6.00,-10.96L7.50,-15.07L10.50,-17.81L13.50,-19.18L18.00,-19.18"/>
</g>
<circle cx="288.20" cy="218.30" r="6.7" fill="#ff0000"/>
<circle cx="367.30" cy="302.40" r="6.7" fill="#ff0000"/>
<circle cx="448.40" cy="348.70" r="6.7" fill="#ff0000"/>
<path d="M343.53,240.58C343.90,240.81 345.01,241.51 345.76,241.97C346.50,242.43 347.25,242.90 348.00,243.36C348.75,243.82 349.49,244.28 350.24,244.74C350.99,245.20 351.73,245.66 352.48,246.12C353.23,246.58 353.97,247.04 354.72,247.50C355.47,247.96 356.22,248.41 356.97,248.87C357.72,249.33 358.47,249.79 359.22,250.24C359.97,250.69 360.72,251.15 361.47,251.60C362.22,252.05 362.97,252.51 363.72,252.96C364.47,253.41 365.22,253.87 365.97,254.32C366.72,254.77 367.48,255.22 368.23,255.67C368.98,256.12 369.74,256.57 370.49,257.02C371.24,257.47 372.00,257.92 372.75,258.37C373.50,258.82 374.26,259.27 375.01,259.72C375.76,260.17 376.52,260.61 377.27,261.06C378.02,261.51 378.77,261.95 379.53,262.40C380.28,262.85 381.05,263.29 381.80,263.74C382.56,264.19 383.31,264.63 384.06,265.08C384.81,265.52 385.57,265.97 386.33,266.41C387.09,266.85 387.84,267.30 388.60,267.74C389.36,268.19 390.11,268.63 390.87,269.08C391.63,269.52 392.38,269.97 393.14,270.41C393.90,270.85 394.65,271.30 395.41,271.74C396.17,272.18 396.92,272.62 397.68,273.06C398.44,273.50 399.19,273.95 399.95,274.39C400.71,274.83 401.47,275.28 402.23,275.72C402.99,276.16 403.74,276.60 404.50,277.04C405.26,277.48 406.01,277.93 406.77,278.37C407.53,278.81 408.28,279.26 409.04,279.70C409.80,280.14 410.56,280.58 411.32,281.02C412.08,281.46 412.83,281.91 413.59,282.35C414.35,282.79 415.10,283.23 415.86,283.67C416.62,284.11 417.37,284.56 418.13,285.00C418.89,285.44 419.65,285.89 420.41,286.33C421.17,286.77 421.92,287.22 422.68,287.66C423.44,288.10 424.19,288.54 424.95,288.98C425.71,289.42 426.46,289.87 427.22,290.31C427.98,290.75 428.73,291.20 429.49,291.65C430.25,292.09 431.00,292.54 431.76,292.98C432.52,293.42 433.27,293.87 434.03,294.31C434.78,294.75 435.54,295.20 436.29,295.65C437.05,296.10 437.81,296.54 438.56,296.99C439.31,297.44 440.07,297.88 440.82,298.33C441.57,298.78 442.32,299.22 443.08,299.67C443.83,300.12 444.60,300.56 445.35,301.01C446.11,301.46 446.86,301.91 447.61,302.36C448.36,302.81 449.12,303.26 449.87,303.71C450.62,304.16 451.37,304.61 452.12,305.06C452.87,305.51 453.63,305.97 454.38,306.42C455.13,306.87 455.88,307.33 456.63,307.78C457.38,308.23 458.13,308.69 458.88,309.14C459.63,309.59 460.38,310.05 461.13,310.51C461.88,310.97 462.63,311.42 463.38,311.88C464.13,312.34 464.87,312.79 465.62,313.25C466.37,313.71 467.11,314.17 467.86,314.63C468.61,315.09 469.35,315.55 470.10,316.01C470.85,316.47 471.59,316.93 472.34,317.39C473.08,317.85 473.83,318.31 474.57,318.78C475.31,319.25 476.06,319.71 476.80,320.18C477.54,320.65 478.29,321.11 479.03,321.58C479.77,322.05 480.52,322.51 481.26,322.98C482.00,323.45 482.74,323.92 483.48,324.39C484.22,324.86 484.96,325.34 485.70,325.81C486.44,326.28 487.17,326.76 487.91,327.23C488.65,327.70 489.39,328.17 490.13,328.65C490.87,329.12 491.59,329.60 492.33,330.08C493.06,330.56 493.81,331.04 494.54,331.52C495.28,332.00 496.01,332.48 496.74,332.96C497.47,333.44 498.21,333.93 498.94,334.41C499.67,334.89 500.40,335.38 501.13,335.86C501.86,336.35 502.59,336.83 503.32,337.32C504.05,337.81 504.77,338.30 505.50,338.79C506.23,339.28 506.95,339.77 507.68,340.26C508.41,340.75 509.13,341.25 509.86,341.75C510.59,342.25 511.31,342.73 512.03,343.23C512.75,343.73 513.47,344.23 514.19,344.73C514.91,345.23 515.63,345.73 516.35,346.23C517.07,346.73 517.79,347.24 518.51,347.74C519.23,348.24 519.94,348.74 520.66,349.25C521.38,349.76 522.09,350.27 522.80,350.78C523.51,351.29 524.23,351.81 524.94,352.32C525.65,352.83 526.36,353.35 527.07,353.86C527.78,354.38 528.48,354.89 529.19,355.41C529.90,355.93 530.61,356.46 531.31,356.98C532.01,357.50 532.72,358.02 533.42,358.55C534.12,359.08 534.81,359.61 535.51,360.14C536.21,360.67 536.90,361.20 537.60,361.74C538.30,362.28 539.00,362.81 539.69,363.35C540.38,363.89 541.07,364.43 541.76,364.97C542.45,365.51 543.13,366.06 543.82,366.61C544.51,367.16 545.19,367.71 545.87,368.26C546.55,368.81 547.23,369.36 547.91,369.92C548.59,370.48 549.27,371.04 549.94,371.60C550.61,372.16 551.28,372.73 551.95,373.29C552.62,373.86 553.29,374.42 553.95,374.99C554.62,375.56 555.28,376.14 555.94,376.72C556.60,377.30 557.26,377.87 557.92,378.45C558.58,379.03 559.23,379.62 559.88,380.21C560.53,380.80 561.18,381.39 561.83,381.98C562.48,382.57 563.12,383.16 563.76,383.76C564.40,384.36 565.04,384.96 565.68,385.57C566.31,386.18 566.94,386.78 567.57,387.39C568.20,388.00 568.83,388.61 569.45,389.23C570.08,389.85 570.70,390.47 571.32,391.09C571.94,391.71 572.55,392.33 573.16,392.96C573.77,393.59 574.38,394.23 574.99,394.86C575.60,395.50 576.19,396.13 576.79,396.77C577.39,397.41 577.99,398.06 578.58,398.71C579.17,399.36 579.76,400.00 580.34,400.66C580.92,401.32 581.51,401.98 582.08,402.64C582.65,403.30 583.22,403.96 583.79,404.63C584.36,405.30 584.93,405.96 585.49,406.64C586.05,407.31 586.61,408.00 587.16,408.68C587.71,409.36 588.26,410.04 588.80,410.73C589.34,411.42 589.88,412.11 590.42,412.81C590.95,413.51 591.49,414.21 592.01,414.91C592.53,415.61 593.06,416.31 593.57,417.02C594.09,417.73 594.59,418.44 595.10,419.16C595.61,419.88 596.11,420.60 596.61,421.32C597.11,422.04 597.60,422.77 598.08,423.50C598.57,424.23 599.04,424.96 599.52,425.70C600.00,426.44 600.46,427.18 600.93,427.92C601.39,428.66 601.85,429.41 602.31,430.16C602.76,430.91 603.22,431.66 603.66,432.42C604.10,433.18 604.54,433.94 604.97,434.70C605.40,435.46 605.83,436.23 606.25,437.00C606.67,437.77 607.08,438.54 607.49,439.32C607.90,440.10 608.30,440.88 608.70,441.66C609.10,442.44 609.49,443.23 609.87,444.02C610.25,444.81 610.63,445.60 611.00,446.39C611.37,447.18 611.74,447.98 612.10,448.78C612.46,449.58 612.81,450.38 613.16,451.19C613.50,452.00 613.84,452.81 614.17,453.62C614.50,454.43 614.84,455.24 615.16,456.06C615.48,456.88 615.79,457.70 616.10,458.52C616.41,459.34 616.71,460.17 617.00,460.99C617.29,461.81 617.58,462.64 617.86,463.47C618.14,464.30 618.42,465.13 618.69,465.97C618.96,466.81 619.34,468.07 619.47,468.49" fill="none" stroke="#ff00ff" stroke-width="2.10" stroke-linecap="butt" stroke-linejoin="round" stroke-dasharray="31.6 10.2" stroke-dashoffset="0"/>
<path d="M622.6,501.5C624.3,510 625.5,525 625.9,545L626.1,603.7" fill="none" stroke="#ff00ff" stroke-width="2.2"/>
<path d="M256.05,118.80C256.31,119.10 257.09,120.00 257.60,120.60C258.12,121.20 258.62,121.80 259.14,122.40C259.65,123.00 260.17,123.59 260.69,124.19C261.21,124.79 261.72,125.38 262.24,125.98C262.76,126.58 263.27,127.18 263.79,127.78C264.31,128.38 264.82,128.97 265.34,129.56C265.86,130.16 266.38,130.75 266.90,131.35C267.42,131.94 267.94,132.53 268.46,133.13C268.98,133.72 269.51,134.32 270.03,134.92C270.55,135.51 271.07,136.11 271.59,136.70C272.11,137.29 272.64,137.88 273.16,138.47C273.68,139.06 274.21,139.66 274.73,140.25C275.25,140.84 275.79,141.43 276.31,142.02C276.83,142.61 277.36,143.20 277.88,143.79C278.40,144.38 278.93,144.96 279.46,145.55C279.99,146.14 280.52,146.73 281.05,147.32C281.58,147.91 282.10,148.49 282.63,149.08C283.16,149.67 283.69,150.25 284.22,150.84C284.75,151.43 285.28,152.01 285.81,152.60C286.34,153.19 286.88,153.77 287.41,154.35C287.94,154.93 288.47,155.52 289.00,156.10C289.53,156.68 290.07,157.27 290.60,157.85C291.13,158.43 291.67,159.02 292.21,159.60C292.75,160.18 293.27,160.76 293.81,161.34C294.35,161.92 294.88,162.50 295.42,163.08C295.96,163.66 296.49,164.24 297.03,164.82C297.57,165.40 298.11,165.97 298.65,166.55C299.19,167.13 299.72,167.71 300.26,168.29C300.80,168.87 301.34,169.44 301.88,170.02C302.42,170.60 302.97,171.17 303.51,171.74C304.05,172.31 304.59,172.90 305.13,173.47C305.67,174.04 306.22,174.62 306.76,175.19C307.30,175.76 307.84,176.34 308.39,176.91C308.94,177.48 309.48,178.05 310.03,178.62C310.58,179.19 311.12,179.77 311.67,180.34C312.22,180.91 312.76,181.48 313.31,182.05C313.86,182.62 314.40,183.19 314.95,183.76C315.50,184.33 316.05,184.89 316.60,185.46C317.15,186.03 317.70,186.59 318.25,187.16C318.80,187.73 319.35,188.29 319.90,188.86C320.45,189.43 321.01,190.00 321.56,190.56C322.11,191.12 322.67,191.69 323.22,192.25C323.77,192.81 324.32,193.38 324.88,193.94C325.44,194.50 326.00,195.07 326.55,195.63C327.11,196.19 327.65,196.75 328.21,197.31C328.77,197.87 329.33,198.43 329.89,198.99C330.45,199.55 331.00,200.11 331.56,200.67C332.12,201.23 332.68,201.78 333.24,202.34C333.80,202.90 334.36,203.45 334.92,204.01C335.48,204.57 336.04,205.12 336.60,205.68C337.16,206.24 337.73,206.79 338.29,207.35C338.85,207.91 339.42,208.46 339.98,209.01C340.54,209.56 341.11,210.12 341.67,210.67C342.24,211.22 342.80,211.77 343.37,212.32C343.94,212.87 344.50,213.42 345.07,213.97C345.64,214.52 346.20,215.07 346.77,215.62C347.34,216.17 347.91,216.72 348.48,217.27C349.05,217.82 349.62,218.36 350.19,218.91C350.76,219.46 351.33,220.00 351.90,220.55C352.47,221.10 353.04,221.64 353.61,222.18C354.18,222.72 354.76,223.28 355.33,223.82C355.90,224.36 356.48,224.91 357.05,225.45C357.62,225.99 358.20,226.53 358.78,227.07C359.36,227.61 359.93,228.15 360.51,228.69C361.09,229.23 361.66,229.77 362.24,230.31C362.82,230.85 363.39,231.39 363.97,231.93C364.55,232.47 365.13,233.00 365.71,233.54C366.29,234.08 366.87,234.62 367.45,235.15C368.03,235.69 368.62,236.22 369.20,236.75C369.78,237.28 370.37,237.82 370.95,238.35C371.53,238.88 372.12,239.42 372.70,239.95C373.28,240.48 373.87,241.01 374.45,241.54C375.03,242.07 375.62,242.60 376.21,243.13C376.80,243.66 377.38,244.19 377.97,244.72C378.56,245.25 379.14,245.77 379.73,246.30C380.32,246.83 380.91,247.35 381.50,247.88C382.09,248.41 382.68,248.94 383.27,249.46C383.86,249.99 384.46,250.51 385.05,251.03C385.64,251.55 386.23,252.08 386.82,252.60C387.41,253.12 388.01,253.64 388.61,254.16C389.21,254.68 389.79,255.20 390.39,255.72C390.99,256.24 391.58,256.76 392.18,257.28C392.78,257.80 393.37,258.31 393.97,258.83C394.57,259.35 395.16,259.87 395.76,260.38C396.36,260.89 396.96,261.41 397.56,261.92C398.16,262.43 398.76,262.95 399.36,263.46C399.96,263.97 400.56,264.49 401.16,265.00C401.76,265.51 402.37,266.02 402.97,266.53C403.57,267.04 404.17,267.55 404.78,268.06C405.38,268.57 405.99,269.08 406.60,269.59C407.21,270.10 407.81,270.60 408.42,271.11C409.03,271.62 409.63,272.12 410.24,272.63C410.85,273.13 411.45,273.64 412.06,274.14C412.67,274.64 413.28,275.15 413.89,275.65C414.50,276.15 415.11,276.65 415.72,277.15C416.33,277.65 416.95,278.15 417.56,278.65C418.17,279.15 418.78,279.65 419.39,280.15C420.00,280.65 420.62,281.14 421.24,281.64C421.86,282.14 422.46,282.63 423.08,283.13C423.69,283.62 424.31,284.12 424.93,284.61C425.55,285.10 426.16,285.60 426.78,286.09C427.40,286.58 428.02,287.08 428.64,287.57C429.26,288.06 429.87,288.55 430.49,289.04C431.11,289.53 431.74,290.02 432.36,290.51C432.98,291.00 433.60,291.48 434.22,291.97C434.84,292.46 435.47,292.94 436.09,293.43C436.71,293.92 437.33,294.40 437.96,294.88C438.58,295.36 439.21,295.85 439.84,296.33C440.47,296.81 441.09,297.29 441.72,297.77C442.35,298.25 442.97,298.73 443.60,299.21C444.23,299.69 444.86,300.17 445.49,300.65C446.12,301.13 446.75,301.60 447.38,302.08C448.01,302.56 448.64,303.02 449.27,303.50C449.90,303.98 450.54,304.46 451.17,304.93C451.80,305.40 452.44,305.87 453.07,306.34C453.70,306.81 454.34,307.29 454.97,307.76C455.61,308.23 456.24,308.69 456.88,309.16C457.52,309.63 458.15,310.10 458.79,310.57C459.43,311.04 460.06,311.50 460.70,311.96C461.34,312.42 461.98,312.89 462.62,313.36C463.26,313.83 463.90,314.29 464.54,314.75C465.18,315.21 465.82,315.67 466.46,316.13C467.10,316.59 467.75,317.05 468.39,317.51C469.03,317.97 469.68,318.42 470.32,318.88C470.96,319.34 471.62,319.79 472.26,320.25C472.90,320.71 473.55,321.17 474.19,321.62C474.83,322.07 475.48,322.53 476.13,322.98C476.78,323.43 477.43,323.88 478.08,324.33C478.73,324.78 479.38,325.23 480.03,325.68C480.68,326.13 481.33,326.58 481.98,327.03C482.63,327.48 483.28,327.93 483.93,328.37C484.58,328.81 485.24,329.26 485.89,329.70C486.54,330.14 487.21,330.59 487.86,331.03C488.51,331.47 489.16,331.92 489.82,332.36C490.48,332.80 491.13,333.24 491.79,333.68C492.45,334.12 493.10,334.55 493.76,334.99C494.42,335.43 495.08,335.86 495.74,336.30C496.40,336.74 497.06,337.18 497.72,337.61C498.38,338.04 499.37,338.69 499.70,338.90" fill="none" stroke="#00ff00" stroke-width="1.80" stroke-linecap="butt" stroke-linejoin="round"/>
<path d="M335.78,258.09C336.17,258.51 337.34,259.77 338.12,260.61C338.90,261.45 339.68,262.28 340.47,263.11C341.26,263.94 342.06,264.77 342.85,265.60C343.65,266.43 344.44,267.25 345.24,268.07C346.04,268.89 346.84,269.70 347.65,270.52C348.45,271.33 349.26,272.15 350.07,272.96C350.88,273.77 351.69,274.57 352.51,275.37C353.33,276.17 354.15,276.98 354.97,277.78C355.79,278.58 356.62,279.37 357.45,280.16C358.28,280.95 359.11,281.74 359.94,282.53C360.77,283.32 361.60,284.11 362.44,284.89C363.28,285.67 364.12,286.44 364.96,287.22C365.80,288.00 366.64,288.78 367.49,289.55C368.34,290.32 369.19,291.08 370.04,291.85C370.89,292.62 371.74,293.39 372.60,294.15C373.46,294.91 374.32,295.67 375.18,296.42C376.04,297.18 376.89,297.93 377.76,298.68C378.62,299.43 379.50,300.18 380.37,300.93C381.24,301.68 382.11,302.42 382.98,303.16C383.85,303.90 384.72,304.64 385.60,305.38C386.48,306.12 387.36,306.86 388.24,307.59C389.12,308.32 390.00,309.05 390.89,309.78C391.77,310.51 392.66,311.23 393.55,311.95C394.44,312.67 395.33,313.40 396.22,314.12C397.11,314.84 398.00,315.55 398.90,316.27C399.79,316.99 400.69,317.70 401.59,318.41C402.49,319.12 403.39,319.82 404.29,320.53C405.19,321.24 406.10,321.95 407.00,322.65C407.90,323.35 408.81,324.05 409.72,324.75C410.63,325.45 411.54,326.14 412.45,326.84C413.36,327.53 414.27,328.23 415.18,328.92C416.09,329.61 417.01,330.30 417.93,330.99C418.85,331.68 419.76,332.37 420.68,333.05C421.60,333.73 422.52,334.41 423.44,335.09C424.36,335.77 425.28,336.45 426.21,337.13C427.13,337.81 428.06,338.49 428.99,339.16C429.92,339.84 430.84,340.51 431.77,341.18C432.70,341.85 433.63,342.52 434.56,343.19C435.49,343.86 436.42,344.52 437.35,345.19C438.28,345.86 439.21,346.52 440.15,347.18C441.08,347.84 442.02,348.50 442.96,349.16C443.90,349.82 444.83,350.48 445.77,351.14C446.71,351.80 447.65,352.46 448.59,353.11C449.53,353.76 450.47,354.42 451.41,355.07C452.35,355.72 453.30,356.37 454.24,357.02C455.18,357.67 456.12,358.32 457.07,358.97C458.01,359.62 458.96,360.26 459.91,360.91C460.86,361.56 461.80,362.21 462.75,362.85C463.70,363.50 464.64,364.14 465.59,364.78C466.54,365.42 467.49,366.06 468.44,366.70C469.39,367.34 470.34,367.99 471.29,368.63C472.24,369.27 473.19,369.90 474.14,370.54C475.09,371.18 476.04,371.81 476.99,372.45C477.94,373.09 478.90,373.72 479.85,374.36C480.80,375.00 481.75,375.63 482.71,376.27C483.66,376.90 484.62,377.54 485.58,378.17C486.53,378.80 487.49,379.44 488.44,380.07C489.39,380.70 490.36,381.34 491.31,381.97C492.26,382.60 493.22,383.23 494.17,383.86C495.12,384.49 496.08,385.12 497.04,385.75C498.00,386.38 498.95,387.02 499.91,387.65C500.87,388.28 501.82,388.91 502.78,389.54C503.74,390.17 504.69,390.80 505.65,391.43C506.61,392.06 507.56,392.69 508.52,393.32C509.48,393.95 510.44,394.58 511.40,395.21C512.36,395.84 513.31,396.47 514.27,397.10C515.23,397.73 516.18,398.36 517.14,398.99C518.10,399.62 519.04,400.25 520.00,400.88C520.96,401.51 521.91,402.14 522.87,402.78C523.83,403.41 524.78,404.05 525.73,404.69C526.68,405.33 527.63,405.97 528.58,406.61C529.53,407.25 530.47,407.90 531.42,408.54C532.37,409.19 533.32,409.83 534.26,410.48C535.20,411.13 536.14,411.78 537.08,412.44C538.02,413.10 538.96,413.75 539.90,414.41C540.84,415.07 541.76,415.74 542.69,416.41C543.62,417.08 544.55,417.75 545.48,418.42C546.41,419.10 547.33,419.77 548.25,420.46C549.17,421.14 550.08,421.84 550.99,422.53C551.90,423.22 552.81,423.92 553.72,424.62C554.63,425.32 555.53,426.03 556.43,426.74C557.33,427.45 558.22,428.16 559.11,428.88C560.00,429.60 560.89,430.34 561.77,431.07C562.65,431.80 563.52,432.54 564.39,433.28C565.26,434.02 566.13,434.77 566.99,435.53C567.85,436.29 568.70,437.05 569.55,437.82C570.40,438.59 571.24,439.37 572.08,440.15C572.92,440.93 573.75,441.72 574.57,442.52C575.39,443.31 576.22,444.11 577.03,444.92C577.84,445.73 578.64,446.55 579.44,447.37C580.24,448.19 581.03,449.02 581.81,449.86C582.59,450.70 583.36,451.55 584.13,452.40C584.90,453.25 585.66,454.11 586.41,454.97C587.16,455.84 587.90,456.71 588.63,457.59C589.36,458.47 590.09,459.36 590.81,460.25C591.53,461.14 592.24,462.04 592.94,462.95C593.64,463.86 594.32,464.78 595.00,465.70C595.68,466.62 596.35,467.55 597.01,468.48C597.67,469.42 598.32,470.36 598.96,471.31C599.60,472.26 600.23,473.23 600.85,474.19C601.47,475.15 602.07,476.12 602.67,477.10C603.27,478.08 603.86,479.07 604.43,480.06C605.00,481.05 605.56,482.05 606.11,483.05C606.66,484.06 607.20,485.07 607.72,486.09C608.25,487.11 608.76,488.13 609.26,489.16C609.76,490.19 610.25,491.23 610.72,492.27C611.19,493.31 611.65,494.36 612.10,495.42C612.55,496.48 612.97,497.54 613.39,498.61C613.81,499.68 614.22,500.75 614.61,501.82C615.00,502.89 615.37,503.98 615.74,505.06C616.11,506.14 616.47,507.24 616.81,508.33C617.15,509.42 617.47,510.52 617.79,511.62C618.11,512.72 618.42,513.83 618.71,514.94C619.00,516.05 619.29,517.16 619.56,518.27C619.83,519.38 620.09,520.49 620.34,521.61C620.59,522.73 620.84,523.85 621.07,524.97C621.30,526.09 621.52,527.22 621.73,528.35C621.94,529.48 622.14,530.60 622.33,531.73C622.52,532.86 622.71,533.99 622.88,535.12C623.05,536.25 623.22,537.38 623.38,538.52C623.54,539.65 623.69,540.79 623.83,541.93C623.97,543.07 624.10,544.20 624.23,545.34C624.36,546.48 624.48,547.62 624.59,548.76C624.70,549.90 624.80,551.05 624.90,552.19C625.00,553.33 625.08,554.47 625.17,555.61C625.25,556.75 625.34,557.90 625.41,559.04C625.48,560.18 625.55,561.33 625.61,562.47C625.67,563.61 625.72,564.75 625.77,565.90C625.82,567.04 625.88,568.20 625.91,569.34C625.94,570.49 625.94,571.62 625.95,572.77C625.96,573.91 625.95,575.06 625.95,576.21C625.95,577.36 625.95,578.50 625.95,579.65C625.95,580.79 625.95,581.94 625.95,583.08C625.95,584.23 625.95,585.37 625.95,586.52C625.95,587.67 625.95,588.82 625.95,589.96C625.95,591.11 625.95,592.25 625.95,593.39C625.95,594.53 625.95,595.68 625.95,596.83C625.95,597.98 625.95,599.12 625.95,600.27C625.95,601.41 625.95,603.13 625.95,603.70" fill="none" stroke="#0000ff" stroke-width="2.10" stroke-linecap="butt" stroke-linejoin="round" stroke-dasharray="2.4 4.9 12.6 5.1" stroke-dashoffset="1.2"/>
<path d="M337.31,279.68C337.69,280.04 338.84,281.11 339.60,281.82C340.37,282.53 341.13,283.25 341.90,283.96C342.67,284.67 343.44,285.39 344.21,286.10C344.98,286.81 345.75,287.51 346.52,288.22C347.29,288.93 348.08,289.63 348.85,290.34C349.62,291.04 350.39,291.75 351.17,292.45C351.95,293.15 352.73,293.86 353.51,294.56C354.29,295.26 355.07,295.96 355.85,296.66C356.63,297.36 357.41,298.06 358.19,298.75C358.97,299.44 359.75,300.14 360.54,300.83C361.33,301.52 362.11,302.22 362.90,302.91C363.69,303.60 364.47,304.30 365.26,304.99C366.05,305.68 366.83,306.37 367.62,307.06C368.41,307.75 369.20,308.43 369.99,309.12C370.78,309.81 371.57,310.49 372.36,311.18C373.15,311.87 373.95,312.56 374.74,313.24C375.53,313.93 376.32,314.61 377.12,315.29C377.92,315.97 378.71,316.66 379.51,317.34C380.31,318.02 381.09,318.70 381.89,319.38C382.69,320.06 383.49,320.74 384.29,321.42C385.09,322.10 385.88,322.78 386.68,323.46C387.48,324.14 388.28,324.81 389.08,325.49C389.88,326.17 390.67,326.84 391.47,327.52C392.27,328.20 393.08,328.88 393.88,329.55C394.68,330.23 395.48,330.90 396.28,331.57C397.08,332.24 397.88,332.91 398.68,333.59C399.48,334.26 400.29,334.95 401.09,335.62C401.89,336.29 402.70,336.96 403.50,337.63C404.30,338.30 405.11,338.98 405.91,339.65C406.71,340.32 407.52,341.00 408.32,341.67C409.12,342.34 409.93,343.01 410.73,343.68C411.53,344.35 412.34,345.03 413.14,345.70C413.94,346.37 414.75,347.04 415.55,347.71C416.36,348.38 417.17,349.06 417.97,349.73C418.78,350.40 419.58,351.07 420.38,351.74C421.18,352.41 421.99,353.08 422.79,353.75C423.59,354.42 424.39,355.10 425.20,355.77C426.00,356.44 426.81,357.11 427.62,357.78C428.43,358.45 429.23,359.13 430.03,359.80C430.83,360.47 431.64,361.14 432.44,361.81C433.24,362.48 434.05,363.16 434.85,363.83C435.65,364.50 436.46,365.18 437.26,365.85C438.06,366.52 438.86,367.20 439.66,367.87C440.46,368.54 441.27,369.21 442.07,369.89C442.87,370.56 443.67,371.24 444.47,371.92C445.27,372.60 446.07,373.27 446.87,373.95C447.67,374.63 448.47,375.30 449.27,375.98C450.07,376.66 450.87,377.33 451.67,378.01C452.47,378.69 453.26,379.37 454.06,380.05C454.86,380.73 455.65,381.41 456.45,382.09C457.25,382.77 458.04,383.45 458.84,384.13C459.63,384.81 460.43,385.50 461.22,386.18C462.01,386.86 462.81,387.55 463.60,388.23C464.39,388.91 465.19,389.59 465.98,390.28C466.77,390.96 467.57,391.65 468.36,392.34C469.15,393.03 469.94,393.71 470.73,394.40C471.52,395.09 472.30,395.78 473.09,396.47C473.88,397.16 474.66,397.86 475.45,398.55C476.24,399.24 477.02,399.94 477.81,400.63C478.60,401.32 479.38,402.01 480.16,402.71C480.94,403.40 481.73,404.10 482.51,404.80C483.29,405.50 484.07,406.20 484.85,406.90C485.63,407.60 486.40,408.30 487.18,409.00C487.96,409.70 488.73,410.41 489.51,411.11C490.29,411.81 491.07,412.52 491.84,413.23C492.61,413.94 493.38,414.64 494.15,415.35C494.92,416.06 495.69,416.77 496.46,417.48C497.23,418.19 498.00,418.91 498.77,419.62C499.54,420.33 500.31,421.04 501.07,421.76C501.83,422.48 502.60,423.19 503.36,423.91C504.12,424.63 504.88,425.35 505.64,426.07C506.40,426.79 507.15,427.51 507.91,428.24C508.67,428.97 509.43,429.69 510.18,430.42C510.94,431.15 511.69,431.87 512.44,432.60C513.19,433.33 513.94,434.06 514.69,434.79C515.44,435.52 516.18,436.26 516.93,437.00C517.68,437.74 518.43,438.47 519.17,439.21C519.91,439.95 520.65,440.69 521.39,441.43C522.13,442.17 522.86,442.92 523.60,443.66C524.34,444.41 525.08,445.15 525.81,445.90C526.54,446.65 527.27,447.40 528.00,448.15C528.73,448.90 529.46,449.66 530.19,450.41C530.92,451.17 531.64,451.92 532.36,452.68C533.08,453.44 533.80,454.19 534.52,454.95C535.24,455.71 535.96,456.48 536.68,457.25C537.40,458.02 538.11,458.78 538.82,459.55C539.53,460.32 540.24,461.09 540.95,461.86C541.66,462.63 542.36,463.41 543.06,464.18C543.76,464.95 544.47,465.73 545.17,466.51C545.87,467.29 546.56,468.07 547.26,468.86C547.96,469.65 548.65,470.43 549.34,471.22C550.03,472.01 550.71,472.80 551.40,473.59C552.09,474.38 552.77,475.18 553.45,475.97C554.13,476.77 554.81,477.56 555.48,478.36C556.15,479.16 556.83,479.96 557.50,480.77C558.17,481.58 558.85,482.39 559.51,483.20C560.17,484.01 560.83,484.82 561.49,485.63C562.15,486.44 562.81,487.26 563.46,488.08C564.11,488.90 564.76,489.73 565.41,490.55C566.06,491.38 566.70,492.20 567.34,493.03C567.98,493.86 568.62,494.69 569.25,495.52C569.88,496.35 570.51,497.19 571.14,498.03C571.77,498.87 572.39,499.71 573.01,500.56C573.63,501.41 574.25,502.25 574.86,503.10C575.47,503.95 576.09,504.79 576.69,505.65C577.30,506.50 577.89,507.37 578.49,508.23C579.09,509.09 579.68,509.95 580.27,510.82C580.86,511.69 581.45,512.55 582.03,513.42C582.61,514.29 583.19,515.17 583.76,516.05C584.33,516.93 584.90,517.81 585.46,518.69C586.02,519.57 586.59,520.45 587.14,521.34C587.69,522.23 588.25,523.12 588.79,524.02C589.33,524.91 589.87,525.81 590.41,526.71C590.95,527.61 591.48,528.51 592.01,529.42C592.54,530.32 593.05,531.23 593.57,532.14C594.09,533.05 594.60,533.97 595.11,534.89C595.62,535.81 596.12,536.73 596.61,537.65C597.11,538.57 597.60,539.49 598.08,540.42C598.57,541.35 599.05,542.29 599.52,543.22C599.99,544.15 600.46,545.09 600.92,546.03C601.38,546.97 601.84,547.91 602.29,548.86C602.74,549.81 603.18,550.75 603.62,551.70C604.06,552.65 604.49,553.60 604.92,554.56C605.35,555.52 605.78,556.48 606.19,557.44C606.61,558.40 607.01,559.37 607.41,560.34C607.81,561.31 608.21,562.28 608.60,563.25C608.99,564.22 609.37,565.19 609.75,566.17C610.13,567.15 610.50,568.13 610.86,569.11C611.22,570.09 611.57,571.08 611.92,572.07C612.27,573.06 612.61,574.05 612.95,575.04C613.29,576.03 613.62,577.02 613.94,578.02C614.26,579.02 614.58,580.02 614.89,581.02C615.20,582.02 615.50,583.02 615.79,584.03C616.08,585.03 616.38,586.04 616.66,587.05C616.94,588.06 617.21,589.07 617.47,590.08C617.74,591.09 618.00,592.11 618.25,593.13C618.50,594.15 618.74,595.16 618.98,596.18C619.22,597.20 619.45,598.23 619.67,599.25C619.89,600.27 620.21,601.81 620.32,602.32" fill="none" stroke="#0000ff" stroke-width="0.90" stroke-linecap="butt" stroke-linejoin="round" stroke-dasharray="1.8 5.2 12.6 5.4" stroke-dashoffset="0.9"/>
<path d="M255.99,190.42C256.25,190.68 257.01,191.47 257.52,192.00C258.03,192.53 258.54,193.05 259.05,193.57C259.56,194.09 260.08,194.62 260.59,195.14C261.10,195.66 261.62,196.19 262.13,196.71C262.64,197.23 263.16,197.76 263.67,198.28C264.18,198.80 264.70,199.33 265.21,199.85C265.72,200.37 266.24,200.89 266.75,201.41C267.26,201.93 267.79,202.46 268.30,202.98C268.81,203.50 269.32,204.02 269.84,204.54C270.35,205.06 270.87,205.57 271.39,206.09C271.91,206.61 272.42,207.13 272.94,207.65C273.46,208.17 273.98,208.69 274.50,209.21C275.02,209.73 275.53,210.24 276.05,210.76C276.57,211.28 277.09,211.79 277.61,212.31C278.13,212.83 278.65,213.34 279.17,213.86C279.69,214.38 280.21,214.90 280.73,215.41C281.25,215.92 281.77,216.44 282.29,216.95C282.81,217.46 283.34,217.98 283.86,218.49C284.38,219.00 284.90,219.53 285.42,220.04C285.94,220.55 286.47,221.06 286.99,221.57C287.51,222.08 288.04,222.60 288.56,223.11C289.08,223.62 289.62,224.13 290.14,224.64C290.66,225.15 291.18,225.67 291.71,226.18C292.24,226.69 292.76,227.20 293.29,227.71C293.82,228.22 294.34,228.72 294.87,229.23C295.40,229.74 295.92,230.25 296.45,230.76C296.98,231.27 297.51,231.77 298.04,232.28C298.57,232.79 299.10,233.29 299.63,233.80C300.16,234.31 300.69,234.81 301.22,235.32C301.75,235.82 302.28,236.33 302.81,236.83C303.34,237.34 303.87,237.84 304.40,238.35C304.93,238.85 305.47,239.36 306.00,239.86C306.53,240.36 307.07,240.86 307.60,241.36C308.13,241.86 308.67,242.37 309.20,242.87C309.73,243.37 310.26,243.87 310.80,244.37C311.34,244.87 311.87,245.37 312.41,245.87C312.95,246.37 313.48,246.87 314.02,247.37C314.56,247.87 315.09,248.36 315.63,248.86C316.17,249.36 316.70,249.85 317.24,250.35C317.78,250.85 318.32,251.34 318.86,251.84C319.40,252.34 319.94,252.84 320.48,253.33C321.02,253.83 321.56,254.32 322.10,254.81C322.64,255.30 323.19,255.80 323.73,256.29C324.27,256.78 324.81,257.28 325.35,257.77C325.89,258.26 326.44,258.75 326.98,259.24C327.53,259.73 328.07,260.22 328.62,260.71C329.17,261.20 329.70,261.69 330.25,262.18C330.80,262.67 331.34,263.15 331.89,263.64C332.44,264.13 332.98,264.62 333.53,265.11C334.08,265.60 334.62,266.07 335.17,266.56C335.72,267.05 336.27,267.53 336.82,268.02C337.37,268.50 337.92,268.99 338.47,269.47C339.02,269.95 339.57,270.44 340.12,270.92C340.67,271.40 341.23,271.89 341.78,272.37C342.33,272.85 342.88,273.33 343.43,273.81C343.98,274.29 344.55,274.77 345.10,275.25C345.66,275.73 346.20,276.21 346.76,276.69C347.31,277.17 347.87,277.64 348.43,278.12C348.99,278.60 349.54,279.07 350.10,279.55C350.66,280.03 351.21,280.50 351.77,280.97C352.33,281.44 352.88,281.92 353.44,282.39C354.00,282.86 354.56,283.34 355.12,283.81C355.68,284.28 356.24,284.76 356.80,285.23C357.36,285.70 357.93,286.17 358.49,286.64C359.05,287.11 359.62,287.57 360.18,288.04C360.74,288.51 361.31,288.98 361.87,289.45C362.43,289.92 363.00,290.38 363.56,290.85C364.12,291.32 364.69,291.78 365.26,292.24C365.83,292.70 366.39,293.18 366.96,293.64C367.53,294.10 368.09,294.56 368.66,295.02C369.23,295.48 369.80,295.95 370.37,296.41C370.94,296.87 371.51,297.33 372.08,297.79C372.65,298.25 373.22,298.71 373.79,299.17C374.36,299.63 374.94,300.08 375.51,300.54C376.08,301.00 376.66,301.46 377.23,301.91C377.80,302.37 378.38,302.82 378.95,303.27C379.52,303.72 380.10,304.18 380.68,304.63C381.26,305.08 381.83,305.54 382.41,305.99C382.99,306.44 383.56,306.89 384.14,307.34C384.72,307.79 385.30,308.24 385.88,308.69C386.46,309.14 387.04,309.58 387.62,310.03C388.20,310.48 388.78,310.93 389.36,311.37C389.94,311.81 390.52,312.26 391.10,312.70C391.68,313.14 392.27,313.59 392.85,314.03C393.44,314.47 394.03,314.92 394.61,315.36C395.19,315.80 395.78,316.24 396.36,316.68C396.94,317.12 397.53,317.55 398.12,317.99C398.71,318.43 399.30,318.87 399.89,319.31C400.48,319.75 401.06,320.18 401.65,320.61C402.24,321.04 402.83,321.48 403.42,321.91C404.01,322.34 404.61,322.78 405.20,323.21C405.79,323.64 406.38,324.07 406.97,324.50C407.56,324.93 408.16,325.36 408.76,325.79C409.36,326.22 409.95,326.65 410.54,327.08C411.13,327.51 411.73,327.93 412.33,328.35C412.93,328.78 413.52,329.20 414.12,329.63C414.72,330.06 415.31,330.48 415.91,330.90C416.51,331.32 417.11,331.74 417.71,332.16C418.31,332.58 418.91,333.00 419.51,333.42C420.11,333.84 420.72,334.25 421.32,334.67C421.92,335.09 422.53,335.50 423.13,335.92C423.73,336.34 424.33,336.75 424.94,337.16C425.55,337.57 426.15,337.99 426.76,338.40C427.37,338.81 427.97,339.22 428.58,339.63C429.19,340.04 429.79,340.45 430.40,340.86C431.01,341.27 431.62,341.67 432.23,342.08C432.84,342.49 433.45,342.89 434.06,343.29C434.67,343.69 435.28,344.10 435.89,344.50C436.50,344.90 437.12,345.31 437.73,345.71C438.34,346.11 438.95,346.51 439.57,346.91C440.19,347.31 440.80,347.70 441.42,348.10C442.04,348.50 442.65,348.90 443.27,349.29C443.89,349.69 444.50,350.08 445.12,350.47C445.74,350.86 446.36,351.26 446.98,351.65C447.60,352.04 448.22,352.43 448.84,352.82C449.46,353.21 450.08,353.59 450.70,353.98C451.32,354.37 451.95,354.75 452.57,355.14C453.19,355.52 453.82,355.91 454.44,356.29C455.06,356.67 455.69,357.06 456.31,357.44C456.94,357.82 457.56,358.20 458.19,358.58C458.82,358.96 459.44,359.33 460.07,359.71C460.70,360.09 461.33,360.46 461.96,360.84C462.59,361.21 463.22,361.59 463.85,361.96C464.48,362.33 465.11,362.71 465.74,363.08C466.37,363.45 467.01,363.82 467.64,364.19C468.27,364.56 468.91,364.92 469.54,365.29C470.17,365.66 470.81,366.02 471.44,366.39C472.07,366.75 472.71,367.12 473.35,367.48C473.99,367.84 474.62,368.21 475.26,368.57C475.90,368.93 476.54,369.28 477.18,369.64C477.82,370.00 478.46,370.35 479.10,370.71C479.74,371.07 480.38,371.42 481.02,371.78C481.66,372.13 482.30,372.49 482.94,372.84C483.58,373.19 484.23,373.54 484.87,373.89C485.51,374.24 486.16,374.58 486.81,374.93C487.46,375.28 488.10,375.62 488.75,375.97C489.40,376.32 490.04,376.66 490.69,377.00C491.34,377.34 491.98,377.68 492.63,378.02C493.28,378.36 494.25,378.87 494.58,379.04" fill="none" stroke="#ff0000" stroke-width="1.30" stroke-linecap="butt" stroke-linejoin="round" stroke-dasharray="12.6 9.9" stroke-dashoffset="0"/>
<path d="M244.90,131.11C245.39,131.70 246.86,133.46 247.84,134.63C248.82,135.80 249.80,136.97 250.79,138.13C251.78,139.29 252.77,140.46 253.76,141.62C254.75,142.78 255.74,143.94 256.74,145.10C257.74,146.26 258.74,147.42 259.74,148.57C260.74,149.72 261.74,150.87 262.75,152.02C263.76,153.17 264.77,154.31 265.78,155.46C266.79,156.61 267.81,157.75 268.82,158.89C269.83,160.03 270.85,161.17 271.87,162.31C272.89,163.45 273.92,164.58 274.94,165.71C275.96,166.84 276.99,167.97 278.02,169.10C279.05,170.23 280.08,171.35 281.12,172.48C282.16,173.60 283.19,174.73 284.23,175.85C285.27,176.97 286.31,178.08 287.35,179.20C288.39,180.31 289.44,181.43 290.49,182.54C291.54,183.65 292.60,184.76 293.65,185.86C294.70,186.97 295.75,188.07 296.81,189.17C297.87,190.27 298.94,191.37 300.00,192.47C301.06,193.57 302.12,194.67 303.19,195.76C304.26,196.85 305.33,197.94 306.40,199.03C307.47,200.12 308.55,201.20 309.63,202.28C310.71,203.36 311.78,204.45 312.86,205.53C313.94,206.61 315.03,207.69 316.12,208.76C317.21,209.83 318.29,210.90 319.38,211.97C320.47,213.04 321.56,214.10 322.66,215.17C323.76,216.23 324.86,217.30 325.96,218.36C327.06,219.42 328.16,220.48 329.27,221.53C330.38,222.58 331.48,223.63 332.59,224.68C333.70,225.73 334.81,226.78 335.92,227.82C337.04,228.86 338.16,229.91 339.28,230.95C340.40,231.99 341.52,233.03 342.64,234.06C343.76,235.09 344.89,236.13 346.02,237.16C347.15,238.19 348.28,239.22 349.41,240.24C350.54,241.26 351.68,242.28 352.82,243.30C353.96,244.32 355.10,245.34 356.24,246.35C357.38,247.36 358.53,248.37 359.68,249.38C360.83,250.39 361.98,251.40 363.13,252.40C364.28,253.40 365.43,254.40 366.59,255.40C367.75,256.40 368.91,257.40 370.07,258.39C371.23,259.38 372.39,260.37 373.56,261.35C374.73,262.34 375.89,263.32 377.06,264.30C378.23,265.28 379.40,266.26 380.58,267.24C381.76,268.22 382.94,269.19 384.12,270.16C385.30,271.13 386.48,272.10 387.66,273.07C388.84,274.04 390.02,275.00 391.21,275.96C392.40,276.92 393.59,277.88 394.78,278.84C395.97,279.80 397.17,280.75 398.36,281.70C399.55,282.65 400.75,283.61 401.94,284.56C403.13,285.51 404.33,286.45 405.53,287.40C406.73,288.34 407.94,289.29 409.14,290.23C410.34,291.17 411.55,292.12 412.75,293.06C413.95,294.00 415.15,294.93 416.36,295.87C417.57,296.81 418.78,297.75 419.99,298.68C421.20,299.62 422.40,300.55 423.61,301.48C424.82,302.41 426.04,303.34 427.25,304.27C428.46,305.20 429.67,306.13 430.88,307.06C432.09,307.99 433.30,308.91 434.52,309.84C435.74,310.77 436.95,311.69 438.17,312.62C439.39,313.55 440.61,314.46 441.82,315.39C443.03,316.31 444.25,317.25 445.46,318.17C446.67,319.10 447.89,320.02 449.11,320.94C450.33,321.86 451.55,322.79 452.77,323.71C453.99,324.63 455.20,325.56 456.42,326.48C457.64,327.40 458.85,328.33 460.07,329.25C461.29,330.17 462.50,331.10 463.72,332.02C464.94,332.94 466.15,333.87 467.36,334.79C468.57,335.72 469.80,336.64 471.01,337.57C472.22,338.50 473.44,339.42 474.65,340.35C475.86,341.28 477.08,342.20 478.29,343.13C479.50,344.06 480.72,344.99 481.93,345.92C483.14,346.85 484.35,347.79 485.56,348.72C486.77,349.65 487.98,350.58 489.19,351.52C490.40,352.45 491.61,353.39 492.81,354.33C494.01,355.27 495.22,356.21 496.42,357.15C497.62,358.09 498.83,359.04 500.03,359.98C501.23,360.92 502.42,361.86 503.62,362.81C504.82,363.76 506.02,364.71 507.22,365.66C508.42,366.61 509.61,367.56 510.80,368.52C511.99,369.47 513.18,370.43 514.37,371.39C515.56,372.35 516.74,373.31 517.93,374.27C519.12,375.23 520.30,376.20 521.48,377.17C522.66,378.14 523.84,379.11 525.02,380.08C526.20,381.05 527.38,382.02 528.55,383.00C529.72,383.98 530.90,384.96 532.07,385.94C533.24,386.92 534.41,387.91 535.57,388.90C536.74,389.89 537.90,390.88 539.06,391.87C540.22,392.86 541.38,393.86 542.53,394.86C543.68,395.86 544.84,396.87 545.99,397.87C547.14,398.88 548.28,399.88 549.43,400.89C550.57,401.90 551.72,402.92 552.86,403.94C554.00,404.96 555.13,405.98 556.26,407.00C557.39,408.02 558.52,409.05 559.65,410.08C560.78,411.11 561.91,412.15 563.03,413.19C564.15,414.23 565.26,415.27 566.37,416.32C567.48,417.37 568.59,418.41 569.69,419.47C570.79,420.53 571.89,421.60 572.98,422.67C574.07,423.74 575.15,424.81 576.23,425.89C577.31,426.97 578.39,428.06 579.45,429.16C580.51,430.26 581.57,431.37 582.61,432.48C583.65,433.60 584.69,434.72 585.72,435.85C586.75,436.98 587.76,438.11 588.77,439.26C589.78,440.41 590.78,441.57 591.76,442.74C592.74,443.91 593.71,445.09 594.67,446.28C595.63,447.47 596.57,448.67 597.50,449.88C598.43,451.09 599.35,452.31 600.25,453.55C601.15,454.79 602.03,456.03 602.89,457.29C603.75,458.55 604.60,459.82 605.43,461.10C606.26,462.38 607.07,463.68 607.86,464.99C608.65,466.30 609.41,467.62 610.16,468.95C610.90,470.28 611.63,471.63 612.33,472.99C613.03,474.35 613.70,475.73 614.35,477.11C615.00,478.49 615.62,479.88 616.21,481.29C616.80,482.70 617.37,484.12 617.91,485.55C618.45,486.98 618.95,488.42 619.43,489.87C619.91,491.32 620.36,492.78 620.78,494.25C621.20,495.72 621.59,497.20 621.96,498.68C622.33,500.16 622.67,501.65 622.99,503.14C623.31,504.63 623.60,506.14 623.87,507.64C624.14,509.14 624.40,510.65 624.63,512.16C624.86,513.67 625.06,515.19 625.25,516.70C625.44,518.22 625.62,519.73 625.77,521.25C625.92,522.77 626.09,524.30 626.15,525.82C626.21,527.34 626.15,528.87 626.15,530.39C626.15,531.91 626.15,533.44 626.15,534.96C626.15,536.49 626.15,538.01 626.15,539.54C626.15,541.07 626.15,542.59 626.15,544.12C626.15,545.65 626.15,547.18 626.15,548.71C626.15,550.24 626.15,551.76 626.15,553.29C626.15,554.82 626.15,556.34 626.15,557.87C626.15,559.40 626.15,560.92 626.15,562.45C626.15,563.98 626.15,565.50 626.15,567.03C626.15,568.56 626.15,570.09 626.15,571.62C626.15,573.15 626.15,574.67 626.15,576.20C626.15,577.73 626.15,579.25 626.15,580.78C626.15,582.31 626.15,583.83 626.15,585.36C626.15,586.89 626.15,588.41 626.15,589.94C626.15,591.47 626.15,592.99 626.15,594.52C626.15,596.05 626.15,597.57 626.15,599.10C626.15,600.63 626.15,602.93 626.15,603.69" fill="none" stroke="#000" stroke-width="2.10" stroke-linecap="butt" stroke-linejoin="round" stroke-dasharray="2.4 4.9" stroke-dashoffset="0.3"/>
<path d="M244.50,169.47C244.99,170.01 246.44,171.64 247.42,172.73C248.40,173.81 249.38,174.90 250.37,175.98C251.36,177.06 252.34,178.14 253.33,179.22C254.32,180.30 255.31,181.36 256.31,182.43C257.31,183.50 258.31,184.57 259.31,185.63C260.31,186.69 261.32,187.75 262.33,188.81C263.34,189.87 264.36,190.92 265.37,191.97C266.38,193.02 267.40,194.07 268.42,195.12C269.44,196.17 270.46,197.20 271.49,198.24C272.52,199.28 273.56,200.33 274.59,201.36C275.62,202.40 276.65,203.42 277.69,204.45C278.73,205.48 279.77,206.51 280.82,207.53C281.87,208.55 282.91,209.57 283.96,210.59C285.01,211.61 286.06,212.62 287.11,213.63C288.17,214.64 289.23,215.65 290.29,216.66C291.35,217.67 292.41,218.67 293.47,219.67C294.54,220.67 295.61,221.66 296.68,222.66C297.75,223.66 298.82,224.65 299.89,225.64C300.96,226.63 302.04,227.61 303.12,228.60C304.20,229.59 305.29,230.57 306.37,231.55C307.45,232.53 308.54,233.50 309.63,234.48C310.72,235.45 311.81,236.43 312.90,237.40C313.99,238.37 315.09,239.34 316.19,240.30C317.29,241.27 318.39,242.23 319.49,243.19C320.59,244.15 321.69,245.11 322.80,246.07C323.91,247.03 325.02,247.98 326.13,248.93C327.24,249.88 328.35,250.83 329.46,251.77C330.57,252.72 331.69,253.66 332.81,254.60C333.93,255.54 335.05,256.48 336.17,257.42C337.29,258.36 338.42,259.30 339.54,260.23C340.67,261.16 341.79,262.09 342.92,263.02C344.05,263.95 345.18,264.88 346.31,265.80C347.44,266.72 348.57,267.64 349.71,268.56C350.84,269.48 351.98,270.40 353.12,271.32C354.26,272.24 355.40,273.15 356.54,274.06C357.68,274.97 358.84,275.88 359.98,276.79C361.12,277.70 362.26,278.61 363.41,279.51C364.56,280.41 365.71,281.32 366.86,282.22C368.01,283.12 369.17,284.02 370.32,284.92C371.47,285.82 372.62,286.72 373.78,287.61C374.94,288.50 376.10,289.39 377.26,290.28C378.42,291.17 379.58,292.06 380.74,292.95C381.90,293.84 383.06,294.73 384.22,295.61C385.38,296.50 386.55,297.38 387.72,298.26C388.89,299.14 390.05,300.02 391.22,300.90C392.39,301.78 393.56,302.65 394.73,303.53C395.90,304.40 397.07,305.28 398.24,306.15C399.41,307.02 400.59,307.90 401.76,308.77C402.93,309.64 404.10,310.50 405.28,311.37C406.46,312.24 407.64,313.10 408.82,313.97C410.00,314.84 411.17,315.71 412.35,316.57C413.53,317.43 414.71,318.29 415.89,319.15C417.07,320.01 418.26,320.87 419.44,321.73C420.62,322.59 421.81,323.44 422.99,324.30C424.17,325.16 425.36,326.01 426.54,326.87C427.73,327.73 428.91,328.58 430.10,329.43C431.29,330.28 432.47,331.14 433.66,331.99C434.85,332.84 436.04,333.69 437.23,334.54C438.42,335.39 439.61,336.24 440.80,337.09C441.99,337.94 443.18,338.78 444.37,339.63C445.56,340.48 446.76,341.33 447.95,342.17C449.14,343.01 450.33,343.86 451.52,344.70C452.71,345.54 453.91,346.40 455.10,347.24C456.30,348.08 457.50,348.92 458.69,349.76C459.88,350.60 461.07,351.45 462.27,352.29C463.46,353.13 464.67,353.97 465.86,354.81C467.06,355.65 468.25,356.50 469.44,357.34C470.63,358.18 471.83,359.02 473.03,359.86C474.23,360.70 475.42,361.54 476.62,362.38C477.82,363.22 479.01,364.05 480.21,364.89C481.41,365.73 482.60,366.57 483.80,367.41C485.00,368.25 486.19,369.09 487.39,369.93C488.59,370.77 489.78,371.60 490.98,372.44C492.18,373.28 493.37,374.12 494.57,374.96C495.77,375.80 496.96,376.64 498.16,377.48C499.36,378.32 500.55,379.15 501.75,379.99C502.95,380.83 504.14,381.67 505.34,382.51C506.54,383.35 507.73,384.19 508.93,385.03C510.13,385.87 511.32,386.72 512.52,387.56C513.72,388.40 514.90,389.24 516.10,390.08C517.30,390.92 518.50,391.77 519.69,392.61C520.88,393.45 522.08,394.30 523.27,395.14C524.46,395.98 525.66,396.83 526.85,397.67C528.04,398.51 529.23,399.35 530.42,400.20C531.61,401.05 532.81,401.90 534.00,402.75C535.19,403.60 536.37,404.45 537.56,405.30C538.75,406.15 539.94,407.00 541.12,407.86C542.30,408.72 543.48,409.58 544.66,410.45C545.84,411.31 547.02,412.18 548.19,413.05C549.36,413.92 550.53,414.81 551.69,415.69C552.86,416.57 554.02,417.46 555.18,418.35C556.34,419.24 557.49,420.14 558.64,421.04C559.79,421.94 560.92,422.86 562.06,423.78C563.20,424.70 564.33,425.62 565.46,426.55C566.59,427.48 567.71,428.42 568.82,429.37C569.93,430.32 571.03,431.27 572.13,432.24C573.23,433.21 574.32,434.18 575.40,435.16C576.48,436.14 577.56,437.14 578.62,438.14C579.68,439.14 580.75,440.15 581.79,441.17C582.83,442.19 583.87,443.23 584.89,444.27C585.91,445.31 586.93,446.37 587.93,447.43C588.93,448.50 589.91,449.57 590.89,450.66C591.87,451.75 592.83,452.85 593.78,453.96C594.73,455.07 595.67,456.19 596.59,457.33C597.51,458.46 598.41,459.61 599.30,460.77C600.19,461.93 601.07,463.11 601.93,464.29C602.79,465.47 603.63,466.66 604.45,467.87C605.27,469.08 606.08,470.30 606.86,471.53C607.64,472.76 608.41,474.01 609.16,475.27C609.91,476.53 610.63,477.79 611.34,479.07C612.05,480.35 612.73,481.65 613.39,482.95C614.05,484.25 614.69,485.56 615.30,486.89C615.91,488.22 616.51,489.56 617.07,490.91C617.63,492.26 618.17,493.61 618.68,494.98C619.19,496.35 619.67,497.73 620.13,499.12C620.59,500.51 621.01,501.90 621.41,503.31C621.81,504.72 622.17,506.14 622.52,507.56C622.87,508.98 623.19,510.40 623.48,511.83C623.77,513.26 624.04,514.70 624.29,516.14C624.54,517.58 624.76,519.02 624.97,520.47C625.18,521.92 625.36,523.37 625.53,524.82C625.70,526.27 625.87,527.73 625.97,529.19C626.07,530.65 626.12,532.10 626.15,533.56C626.18,535.02 626.15,536.47 626.15,537.93C626.15,539.39 626.15,540.86 626.15,542.32C626.15,543.78 626.15,545.24 626.15,546.70C626.15,548.16 626.15,549.62 626.15,551.08C626.15,552.54 626.15,554.01 626.15,555.47C626.15,556.93 626.15,558.39 626.15,559.85C626.15,561.31 626.15,562.78 626.15,564.24C626.15,565.70 626.15,567.16 626.15,568.62C626.15,570.08 626.15,571.54 626.15,573.00C626.15,574.46 626.15,575.93 626.15,577.39C626.15,578.85 626.15,580.31 626.15,581.77C626.15,583.23 626.15,584.69 626.15,586.15C626.15,587.61 626.15,589.08 626.15,590.54C626.15,592.00 626.15,593.46 626.15,594.92C626.15,596.38 626.15,597.85 626.15,599.31C626.15,600.77 626.15,602.96 626.15,603.69" fill="none" stroke="#000" stroke-width="1.25" stroke-linecap="butt" stroke-linejoin="round"/>
<path d="M288.62,235.61L288.62,247.48L301.62,247.48M311.02,247.48L324.02,247.48M333.43,247.48L346.43,247.48M355.82,247.48L368.82,247.48M378.23,247.48L386.06,247.48L386.06,235.61" fill="none" stroke="#ff0000" stroke-width="2" stroke-linecap="butt" stroke-linejoin="miter"/>
<circle cx="272.3" cy="140.6" r="8.6" fill="none" stroke="#00ff00" stroke-width="1.6"/>
<rect x="265.40" y="122.20" width="13.8" height="13.6" fill="none" stroke="#0000ff" stroke-width="1.7"/>
<path d="M256,131.5L263.8,145.5L248.3,145.5Z" fill="#000"/>
<path d="M434.4,116.8H499.4" stroke="#00ff00" stroke-width="1.45" fill="none"/>
<g style="will-change:transform"><text x="503.60" y="128.90" textLength="279.60" lengthAdjust="spacingAndGlyphs" fill="#00ff00" font-family="Liberation Sans, sans-serif" font-size="23px" style="text-rendering:geometricPrecision">Karaali et al. (2003): Hyades</text></g>
<path d="M434.00,159.00L434.00,170.50M434.00,170.50L446.50,170.50M457.30,170.50L470.60,170.50M480.20,170.50L492.20,170.50M500.10,170.50L500.10,159.00" fill="none" stroke="#ff0000" stroke-width="1.45" stroke-linecap="square"/>
<g style="will-change:transform"><text x="510.20" y="169.70" textLength="189.60" lengthAdjust="spacingAndGlyphs" fill="#ff0000" font-family="Liberation Sans, sans-serif" font-size="23px" style="text-rendering:geometricPrecision">Girardi et al. (2004)</text></g>
<path d="M467.2,199.7H561.8" stroke="#0000ff" stroke-width="1.4" fill="none" stroke-dasharray="2.5 4.4 12.8 5.3"/>
<g style="will-change:transform"><text x="568.20" y="211.50" textLength="185.00" lengthAdjust="spacingAndGlyphs" fill="#0000ff" font-family="Liberation Sans, sans-serif" font-size="23px" style="text-rendering:geometricPrecision">Siegel et al. (2002)</text></g>
<path d="M466.5,242.2H564.8" stroke="#ff00ff" stroke-width="1.4" fill="none" stroke-dasharray="31.7 10.2"/>
<g style="will-change:transform"><text x="568.50" y="253.60" textLength="205.80" lengthAdjust="spacingAndGlyphs" fill="#ff00ff" font-family="Liberation Sans, sans-serif" font-size="23px" style="text-rendering:geometricPrecision">Williams et al. (2002)</text></g>
<path d="M135.8,449.4H191.1" stroke="#ff0000" stroke-width="1.45" fill="none" stroke-dasharray="12.6 9.95"/>
<g style="will-change:transform"><text x="207.60" y="455.20" textLength="293.60" lengthAdjust="spacingAndGlyphs" fill="#ff0000" font-family="Liberation Sans, sans-serif" font-size="23px" style="text-rendering:geometricPrecision">Hyades scaled to [Fe/H]= -1.5</text></g>
<path d="M136.05,508.7H190.2" stroke="#000" stroke-width="1.6" fill="none" stroke-dasharray="2.5 4.93"/>
<path d="M136.1,544.5H191.1" stroke="#000" stroke-width="1.5" fill="none"/>
<g transform="translate(207.80,504.20)" fill="none" stroke="#000" stroke-width="2.00" stroke-linecap="butt" stroke-linejoin="round">
<path transform="translate(-0.62,0)" d="M3.60,-18.23L3.60,-0.00M3.60,-9.55L5.40,-11.28L7.20,-12.15L9.90,-12.15L11.70,-11.28L13.50,-9.55L14.40,-6.94L14.40,-5.21L13.50,-2.60L11.70,-0.87L9.90,-0.00L7.20,-0.00L5.40,-0.87L3.60,-2.60"/>
<path transform="translate(-0.31,0)" d="M3.60,-18.23L3.60,-0.00M3.60,-9.55L5.40,-11.28L7.20,-12.15L9.90,-12.15L11.70,-11.28L13.50,-9.55L14.40,-6.94L14.40,-5.21L13.50,-2.60L11.70,-0.87L9.90,-0.00L7.20,-0.00L5.40,-0.87L3.60,-2.60"/>
<path transform="translate(0.00,0)" d="M3.60,-18.23L3.60,-0.00M3.60,-9.55L5.40,-11.28L7.20,-12.15L9.90,-12.15L11.70,-11.28L13.50,-9.55L14.40,-6.94L14.40,-5.21L13.50,-2.60L11.70,-0.87L9.90,-0.00L7.20,-0.00L5.40,-0.87L3.60,-2.60"/>
<path transform="translate(0.31,0)" d="M3.60,-18.23L3.60,-0.00M3.60,-9.55L5.40,-11.28L7.20,-12.15L9.90,-12.15L11.70,-11.28L13.50,-9.55L14.40,-6.94L14.40,-5.21L13.50,-2.60L11.70,-0.87L9.90,-0.00L7.20,-0.00L5.40,-0.87L3.60,-2.60"/>
<path transform="translate(0.62,0)" d="M3.60,-18.23L3.60,-0.00M3.60,-9.55L5.40,-11.28L7.20,-12.15L9.90,-12.15L11.70,-11.28L13.50,-9.55L14.40,-6.94L14.40,-5.21L13.50,-2.60L11.70,-0.87L9.90,-0.00L7.20,-0.00L5.40,-0.87L3.60,-2.60"/>
</g>
<g transform="translate(226.60,504.20)" fill="none" stroke="#000" stroke-width="2.00" stroke-linecap="butt" stroke-linejoin="round">
<path transform="translate(-0.62,0)" d="M3.60,-12.15L3.60,-0.00M3.60,-6.94L4.50,-9.55L6.30,-11.28L8.10,-12.15L10.80,-12.15"/>
<path transform="translate(-0.31,0)" d="M3.60,-12.15L3.60,-0.00M3.60,-6.94L4.50,-9.55L6.30,-11.28L8.10,-12.15L10.80,-12.15"/>
<path transform="translate(0.00,0)" d="M3.60,-12.15L3.60,-0.00M3.60,-6.94L4.50,-9.55L6.30,-11.28L8.10,-12.15L10.80,-12.15"/>
<path transform="translate(0.31,0)" d="M3.60,-12.15L3.60,-0.00M3.60,-6.94L4.50,-9.55L6.30,-11.28L8.10,-12.15L10.80,-12.15"/>
<path transform="translate(0.62,0)" d="M3.60,-12.15L3.60,-0.00M3.60,-6.94L4.50,-9.55L6.30,-11.28L8.10,-12.15L10.80,-12.15"/>
</g>
<g transform="translate(240.05,504.20)" fill="none" stroke="#000" stroke-width="2.00" stroke-linecap="butt" stroke-linejoin="round">
<path transform="translate(-0.62,0)" d="M2.70,-18.23L3.60,-17.36L4.50,-18.23L3.60,-19.10L2.70,-18.23M3.60,-12.15L3.60,-0.00"/>
<path transform="translate(-0.31,0)" d="M2.70,-18.23L3.60,-17.36L4.50,-18.23L3.60,-19.10L2.70,-18.23M3.60,-12.15L3.60,-0.00"/>
<path transform="translate(0.00,0)" d="M2.70,-18.23L3.60,-17.36L4.50,-18.23L3.60,-19.10L2.70,-18.23M3.60,-12.15L3.60,-0.00"/>
<path transform="translate(0.31,0)" d="M2.70,-18.23L3.60,-17.36L4.50,-18.23L3.60,-19.10L2.70,-18.23M3.60,-12.15L3.60,-0.00"/>
<path transform="translate(0.62,0)" d="M2.70,-18.23L3.60,-17.36L4.50,-18.23L3.60,-19.10L2.70,-18.23M3.60,-12.15L3.60,-0.00"/>
</g>
<g transform="translate(249.20,504.20)" fill="none" stroke="#000" stroke-width="2.00" stroke-linecap="butt" stroke-linejoin="round">
<path transform="translate(-0.62,0)" d="M13.50,-12.15L13.50,1.74L12.60,4.34L11.70,5.21L9.90,6.08L7.20,6.08L5.40,5.21M13.50,-9.55L11.70,-11.28L9.90,-12.15L7.20,-12.15L5.40,-11.28L3.60,-9.55L2.70,-6.94L2.70,-5.21L3.60,-2.60L5.40,-0.87L7.20,-0.00L9.90,-0.00L11.70,-0.87L13.50,-2.60"/>
<path transform="translate(-0.31,0)" d="M13.50,-12.15L13.50,1.74L12.60,4.34L11.70,5.21L9.90,6.08L7.20,6.08L5.40,5.21M13.50,-9.55L11.70,-11.28L9.90,-12.15L7.20,-12.15L5.40,-11.28L3.60,-9.55L2.70,-6.94L2.70,-5.21L3.60,-2.60L5.40,-0.87L7.20,-0.00L9.90,-0.00L11.70,-0.87L13.50,-2.60"/>
<path transform="translate(0.00,0)" d="M13.50,-12.15L13.50,1.74L12.60,4.34L11.70,5.21L9.90,6.08L7.20,6.08L5.40,5.21M13.50,-9.55L11.70,-11.28L9.90,-12.15L7.20,-12.15L5.40,-11.28L3.60,-9.55L2.70,-6.94L2.70,-5.21L3.60,-2.60L5.40,-0.87L7.20,-0.00L9.90,-0.00L11.70,-0.87L13.50,-2.60"/>
<path transform="translate(0.31,0)" d="M13.50,-12.15L13.50,1.74L12.60,4.34L11.70,5.21L9.90,6.08L7.20,6.08L5.40,5.21M13.50,-9.55L11.70,-11.28L9.90,-12.15L7.20,-12.15L5.40,-11.28L3.60,-9.55L2.70,-6.94L2.70,-5.21L3.60,-2.60L5.40,-0.87L7.20,-0.00L9.90,-0.00L11.70,-0.87L13.50,-2.60"/>
<path transform="translate(0.62,0)" d="M13.50,-12.15L13.50,1.74L12.60,4.34L11.70,5.21L9.90,6.08L7.20,6.08L5.40,5.21M13.50,-9.55L11.70,-11.28L9.90,-12.15L7.20,-12.15L5.40,-11.28L3.60,-9.55L2.70,-6.94L2.70,-5.21L3.60,-2.60L5.40,-0.87L7.20,-0.00L9.90,-0.00L11.70,-0.87L13.50,-2.60"/>
</g>
<g transform="translate(286.35,504.20)" fill="none" stroke="#000" stroke-width="2.00" stroke-linecap="butt" stroke-linejoin="round">
<path transform="translate(-0.62,0)" d="M4.50,-18.23L4.50,-3.47L5.40,-0.87L7.20,-0.00L9.00,-0.00M1.80,-12.15L8.10,-12.15"/>
<path transform="translate(-0.31,0)" d="M4.50,-18.23L4.50,-3.47L5.40,-0.87L7.20,-0.00L9.00,-0.00M1.80,-12.15L8.10,-12.15"/>
<path transform="translate(0.00,0)" d="M4.50,-18.23L4.50,-3.47L5.40,-0.87L7.20,-0.00L9.00,-0.00M1.80,-12.15L8.10,-12.15"/>
<path transform="translate(0.31,0)" d="M4.50,-18.23L4.50,-3.47L5.40,-0.87L7.20,-0.00L9.00,-0.00M1.80,-12.15L8.10,-12.15"/>
<path transform="translate(0.62,0)" d="M4.50,-18.23L4.50,-3.47L5.40,-0.87L7.20,-0.00L9.00,-0.00M1.80,-12.15L8.10,-12.15"/>
</g>
<g transform="translate(267.85,504.20)" fill="none" stroke="#000" stroke-width="2.00" stroke-linecap="butt" stroke-linejoin="round">
<path transform="translate(-0.62,0)" d="M3.32,-18.23L3.32,-0.00M3.32,-8.68L5.81,-11.28L7.47,-12.15L9.96,-12.15L11.62,-11.28L12.45,-8.68L12.45,-0.00"/>
<path transform="translate(-0.31,0)" d="M3.32,-18.23L3.32,-0.00M3.32,-8.68L5.81,-11.28L7.47,-12.15L9.96,-12.15L11.62,-11.28L12.45,-8.68L12.45,-0.00"/>
<path transform="translate(0.00,0)" d="M3.32,-18.23L3.32,-0.00M3.32,-8.68L5.81,-11.28L7.47,-12.15L9.96,-12.15L11.62,-11.28L12.45,-8.68L12.45,-0.00"/>
<path transform="translate(0.31,0)" d="M3.32,-18.23L3.32,-0.00M3.32,-8.68L5.81,-11.28L7.47,-12.15L9.96,-12.15L11.62,-11.28L12.45,-8.68L12.45,-0.00"/>
<path transform="translate(0.62,0)" d="M3.32,-18.23L3.32,-0.00M3.32,-8.68L5.81,-11.28L7.47,-12.15L9.96,-12.15L11.62,-11.28L12.45,-8.68L12.45,-0.00"/>
</g>
<g transform="translate(207.90,539.75)" fill="none" stroke="#000" stroke-width="2.00" stroke-linecap="butt" stroke-linejoin="round">
<path transform="translate(-0.62,0)" d="M9.00,-18.23L7.20,-18.23L5.40,-17.36L4.50,-14.76L4.50,-0.00M1.80,-12.15L8.10,-12.15"/>
<path transform="translate(-0.31,0)" d="M9.00,-18.23L7.20,-18.23L5.40,-17.36L4.50,-14.76L4.50,-0.00M1.80,-12.15L8.10,-12.15"/>
<path transform="translate(0.00,0)" d="M9.00,-18.23L7.20,-18.23L5.40,-17.36L4.50,-14.76L4.50,-0.00M1.80,-12.15L8.10,-12.15"/>
<path transform="translate(0.31,0)" d="M9.00,-18.23L7.20,-18.23L5.40,-17.36L4.50,-14.76L4.50,-0.00M1.80,-12.15L8.10,-12.15"/>
<path transform="translate(0.62,0)" d="M9.00,-18.23L7.20,-18.23L5.40,-17.36L4.50,-14.76L4.50,-0.00M1.80,-12.15L8.10,-12.15"/>
</g>
<g transform="translate(220.75,539.75)" fill="none" stroke="#000" stroke-width="2.00" stroke-linecap="butt" stroke-linejoin="round">
<path transform="translate(-0.62,0)" d="M13.50,-12.15L13.50,-0.00M13.50,-9.55L11.70,-11.28L9.90,-12.15L7.20,-12.15L5.40,-11.28L3.60,-9.55L2.70,-6.94L2.70,-5.21L3.60,-2.60L5.40,-0.87L7.20,-0.00L9.90,-0.00L11.70,-0.87L13.50,-2.60"/>
<path transform="translate(-0.31,0)" d="M13.50,-12.15L13.50,-0.00M13.50,-9.55L11.70,-11.28L9.90,-12.15L7.20,-12.15L5.40,-11.28L3.60,-9.55L2.70,-6.94L2.70,-5.21L3.60,-2.60L5.40,-0.87L7.20,-0.00L9.90,-0.00L11.70,-0.87L13.50,-2.60"/>
<path transform="translate(0.00,0)" d="M13.50,-12.15L13.50,-0.00M13.50,-9.55L11.70,-11.28L9.90,-12.15L7.20,-12.15L5.40,-11.28L3.60,-9.55L2.70,-6.94L2.70,-5.21L3.60,-2.60L5.40,-0.87L7.20,-0.00L9.90,-0.00L11.70,-0.87L13.50,-2.60"/>
<path transform="translate(0.31,0)" d="M13.50,-12.15L13.50,-0.00M13.50,-9.55L11.70,-11.28L9.90,-12.15L7.20,-12.15L5.40,-11.28L3.60,-9.55L2.70,-6.94L2.70,-5.21L3.60,-2.60L5.40,-0.87L7.20,-0.00L9.90,-0.00L11.70,-0.87L13.50,-2.60"/>
<path transform="translate(0.62,0)" d="M13.50,-12.15L13.50,-0.00M13.50,-9.55L11.70,-11.28L9.90,-12.15L7.20,-12.15L5.40,-11.28L3.60,-9.55L2.70,-6.94L2.70,-5.21L3.60,-2.60L5.40,-0.87L7.20,-0.00L9.90,-0.00L11.70,-0.87L13.50,-2.60"/>
</g>
<g transform="translate(239.50,539.75)" fill="none" stroke="#000" stroke-width="2.00" stroke-linecap="butt" stroke-linejoin="round">
<path transform="translate(-0.62,0)" d="M2.70,-18.23L3.60,-17.36L4.50,-18.23L3.60,-19.10L2.70,-18.23M3.60,-12.15L3.60,-0.00"/>
<path transform="translate(-0.31,0)" d="M2.70,-18.23L3.60,-17.36L4.50,-18.23L3.60,-19.10L2.70,-18.23M3.60,-12.15L3.60,-0.00"/>
<path transform="translate(0.00,0)" d="M2.70,-18.23L3.60,-17.36L4.50,-18.23L3.60,-19.10L2.70,-18.23M3.60,-12.15L3.60,-0.00"/>
<path transform="translate(0.31,0)" d="M2.70,-18.23L3.60,-17.36L4.50,-18.23L3.60,-19.10L2.70,-18.23M3.60,-12.15L3.60,-0.00"/>
<path transform="translate(0.62,0)" d="M2.70,-18.23L3.60,-17.36L4.50,-18.23L3.60,-19.10L2.70,-18.23M3.60,-12.15L3.60,-0.00"/>
</g>
<g transform="translate(248.40,539.75)" fill="none" stroke="#000" stroke-width="2.00" stroke-linecap="butt" stroke-linejoin="round">
<path transform="translate(-0.62,0)" d="M3.60,-12.15L3.60,-0.00M3.60,-8.68L6.30,-11.28L8.10,-12.15L10.80,-12.15L12.60,-11.28L13.50,-8.68L13.50,-0.00"/>
<path transform="translate(-0.31,0)" d="M3.60,-12.15L3.60,-0.00M3.60,-8.68L6.30,-11.28L8.10,-12.15L10.80,-12.15L12.60,-11.28L13.50,-8.68L13.50,-0.00"/>
<path transform="translate(0.00,0)" d="M3.60,-12.15L3.60,-0.00M3.60,-8.68L6.30,-11.28L8.10,-12.15L10.80,-12.15L12.60,-11.28L13.50,-8.68L13.50,-0.00"/>
<path transform="translate(0.31,0)" d="M3.60,-12.15L3.60,-0.00M3.60,-8.68L6.30,-11.28L8.10,-12.15L10.80,-12.15L12.60,-11.28L13.50,-8.68L13.50,-0.00"/>
<path transform="translate(0.62,0)" d="M3.60,-12.15L3.60,-0.00M3.60,-8.68L6.30,-11.28L8.10,-12.15L10.80,-12.15L12.60,-11.28L13.50,-8.68L13.50,-0.00"/>
</g>
<g transform="translate(267.25,539.75)" fill="none" stroke="#000" stroke-width="2.00" stroke-linecap="butt" stroke-linejoin="round">
<path transform="translate(-0.62,0)" d="M4.50,-18.23L4.50,-3.47L5.40,-0.87L7.20,-0.00L9.00,-0.00M1.80,-12.15L8.10,-12.15"/>
<path transform="translate(-0.31,0)" d="M4.50,-18.23L4.50,-3.47L5.40,-0.87L7.20,-0.00L9.00,-0.00M1.80,-12.15L8.10,-12.15"/>
<path transform="translate(0.00,0)" d="M4.50,-18.23L4.50,-3.47L5.40,-0.87L7.20,-0.00L9.00,-0.00M1.80,-12.15L8.10,-12.15"/>
<path transform="translate(0.31,0)" d="M4.50,-18.23L4.50,-3.47L5.40,-0.87L7.20,-0.00L9.00,-0.00M1.80,-12.15L8.10,-12.15"/>
<path transform="translate(0.62,0)" d="M4.50,-18.23L4.50,-3.47L5.40,-0.87L7.20,-0.00L9.00,-0.00M1.80,-12.15L8.10,-12.15"/>
</g>
<path transform="translate(311.80,504.20)" d="M3.45,-12.18L3.45,-0.00M3.45,-8.70L6.04,-11.31L7.77,-12.18L10.36,-12.18L12.08,-11.31L12.95,-8.70L12.95,-0.00M23.30,-12.18L21.57,-11.31L19.85,-9.57L18.99,-6.96L18.99,-5.22L19.85,-2.61L21.57,-0.87L23.30,-0.00L25.89,-0.00L27.62,-0.87L29.34,-2.61L30.20,-5.22L30.20,-6.96L29.34,-9.57L27.62,-11.31L25.89,-12.18L23.30,-12.18M36.25,-12.18L36.25,-0.00M36.25,-6.96L37.11,-9.57L38.84,-11.31L40.56,-12.18L43.15,-12.18M47.46,-12.18L47.46,-0.00M47.46,-8.70L50.05,-11.31L51.78,-12.18L54.37,-12.18L56.09,-11.31L56.96,-8.70L56.96,-0.00M56.96,-8.70L59.55,-11.31L61.27,-12.18L63.86,-12.18L65.59,-11.31L66.45,-8.70L66.45,-0.00M82.85,-12.18L82.85,-0.00M82.85,-9.57L81.12,-11.31L79.40,-12.18L76.81,-12.18L75.08,-11.31L73.36,-9.57L72.49,-6.96L72.49,-5.22L73.36,-2.61L75.08,-0.87L76.81,-0.00L79.40,-0.00L81.12,-0.87L82.85,-2.61M89.75,-18.27L89.75,-0.00M95.79,-18.27L96.66,-17.40L97.52,-18.27L96.66,-19.14L95.79,-18.27M96.66,-12.18L96.66,-0.00M112.19,-12.18L102.70,-0.00M102.70,-12.18L112.19,-12.18M102.70,-0.00L112.19,-0.00M127.72,-12.18L127.72,-0.00M127.72,-9.57L126.00,-11.31L124.27,-12.18L121.68,-12.18L119.96,-11.31L118.23,-9.57L117.37,-6.96L117.37,-5.22L118.23,-2.61L119.96,-0.87L121.68,-0.00L124.27,-0.00L126.00,-0.87L127.72,-2.61M135.49,-18.27L135.49,-3.48L136.35,-0.87L138.08,-0.00L139.81,-0.00M132.90,-12.18L138.94,-12.18M144.12,-18.27L144.98,-17.40L145.85,-18.27L144.98,-19.14L144.12,-18.27M144.98,-12.18L144.98,-0.00M155.34,-12.18L153.61,-11.31L151.89,-9.57L151.03,-6.96L151.03,-5.22L151.89,-2.61L153.61,-0.87L155.34,-0.00L157.93,-0.00L159.66,-0.87L161.38,-2.61L162.24,-5.22L162.24,-6.96L161.38,-9.57L159.66,-11.31L157.93,-12.18L155.34,-12.18M168.28,-12.18L168.28,-0.00M168.28,-8.70L170.87,-11.31L172.60,-12.18L175.19,-12.18L176.91,-11.31L177.78,-8.70L177.78,-0.00" fill="none" stroke="#000" stroke-width="1.70" stroke-linecap="butt" stroke-linejoin="round"/>
<path transform="translate(292.77,539.75)" d="M3.45,-12.18L3.45,-0.00M3.45,-8.70L6.04,-11.31L7.77,-12.18L10.36,-12.18L12.08,-11.31L12.95,-8.70L12.95,-0.00M23.30,-12.18L21.57,-11.31L19.85,-9.57L18.99,-6.96L18.99,-5.22L19.85,-2.61L21.57,-0.87L23.30,-0.00L25.89,-0.00L27.62,-0.87L29.34,-2.61L30.20,-5.22L30.20,-6.96L29.34,-9.57L27.62,-11.31L25.89,-12.18L23.30,-12.18M36.25,-12.18L36.25,-0.00M36.25,-6.96L37.11,-9.57L38.84,-11.31L40.56,-12.18L43.15,-12.18M47.46,-12.18L47.46,-0.00M47.46,-8.70L50.05,-11.31L51.78,-12.18L54.37,-12.18L56.09,-11.31L56.96,-8.70L56.96,-0.00M56.96,-8.70L59.55,-11.31L61.27,-12.18L63.86,-12.18L65.59,-11.31L66.45,-8.70L66.45,-0.00M82.85,-12.18L82.85,-0.00M82.85,-9.57L81.12,-11.31L79.40,-12.18L76.81,-12.18L75.08,-11.31L73.36,-9.57L72.49,-6.96L72.49,-5.22L73.36,-2.61L75.08,-0.87L76.81,-0.00L79.40,-0.00L81.12,-0.87L82.85,-2.61M89.75,-18.27L89.75,-0.00M95.79,-18.27L96.66,-17.40L97.52,-18.27L96.66,-19.14L95.79,-18.27M96.66,-12.18L96.66,-0.00M112.19,-12.18L102.70,-0.00M102.70,-12.18L112.19,-12.18M102.70,-0.00L112.19,-0.00M127.72,-12.18L127.72,-0.00M127.72,-9.57L126.00,-11.31L124.27,-12.18L121.68,-12.18L119.96,-11.31L118.23,-9.57L117.37,-6.96L117.37,-5.22L118.23,-2.61L119.96,-0.87L121.68,-0.00L124.27,-0.00L126.00,-0.87L127.72,-2.61M135.49,-18.27L135.49,-3.48L136.35,-0.87L138.08,-0.00L139.81,-0.00M132.90,-12.18L138.94,-12.18M144.12,-18.27L144.98,-17.40L145.85,-18.27L144.98,-19.14L144.12,-18.27M144.98,-12.18L144.98,-0.00M155.34,-12.18L153.61,-11.31L151.89,-9.57L151.03,-6.96L151.03,-5.22L151.89,-2.61L153.61,-0.87L155.34,-0.00L157.93,-0.00L159.66,-0.87L161.38,-2.61L162.24,-5.22L162.24,-6.96L161.38,-9.57L159.66,-11.31L157.93,-12.18L155.34,-12.18M168.28,-12.18L168.28,-0.00M168.28,-8.70L170.87,-11.31L172.60,-12.18L175.19,-12.18L176.91,-11.31L177.78,-8.70L177.78,-0.00" fill="none" stroke="#000" stroke-width="1.70" stroke-linecap="butt" stroke-linejoin="round"/>
</svg>
</body></html>
